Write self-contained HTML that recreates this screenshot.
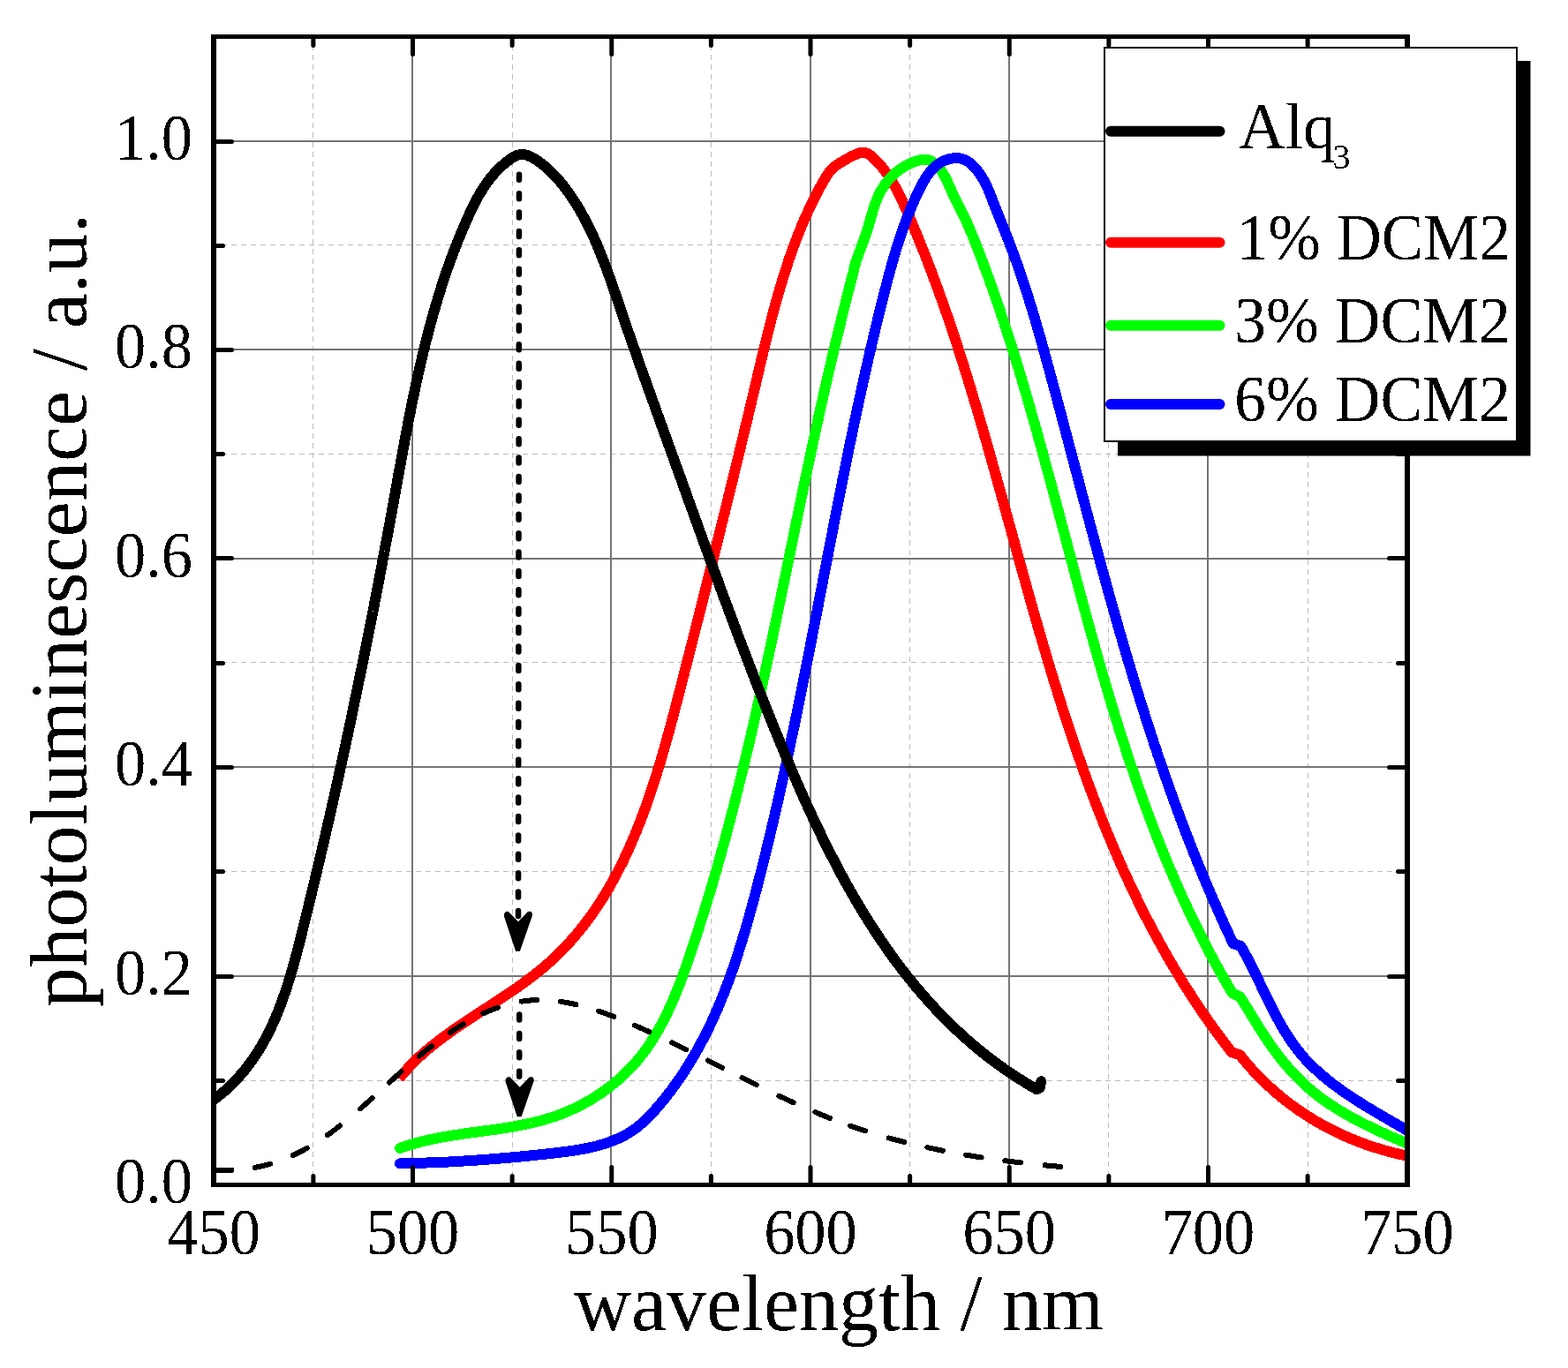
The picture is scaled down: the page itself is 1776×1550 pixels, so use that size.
<!DOCTYPE html>
<html><head><meta charset="utf-8"><title>Photoluminescence spectra</title><style>
html,body{margin:0;padding:0;background:#fff;overflow:hidden;}
svg{display:block;}
.gM{stroke:#747474;stroke-width:2;}
.gm{stroke:#bbbbbb;stroke-width:1;stroke-dasharray:6 5;}
text{font-family:"Liberation Serif","Times New Roman",serif;fill:#000;}
.tl text{font-size:74px;}
.at{font-size:90px;}
.aty{font-size:90.5px;}
.lt text{font-size:73px;}
.sub{font-size:40px;}
</style></head><body>
<svg width="1776" height="1550" viewBox="0 0 1776 1550">
<rect width="1776" height="1550" fill="#fff"/>
<g><line x1="354.5" y1="40" x2="354.5" y2="1340" class="gm"/><line x1="580.5" y1="40" x2="580.5" y2="1340" class="gm"/><line x1="805.5" y1="40" x2="805.5" y2="1340" class="gm"/><line x1="1030.5" y1="40" x2="1030.5" y2="1340" class="gm"/><line x1="1255.5" y1="40" x2="1255.5" y2="1340" class="gm"/><line x1="1481.5" y1="40" x2="1481.5" y2="1340" class="gm"/><line x1="240" y1="1224.5" x2="1591" y2="1224.5" class="gm"/><line x1="240" y1="987.5" x2="1591" y2="987.5" class="gm"/><line x1="240" y1="750.5" x2="1591" y2="750.5" class="gm"/><line x1="240" y1="514.5" x2="1591" y2="514.5" class="gm"/><line x1="240" y1="277.5" x2="1591" y2="277.5" class="gm"/><line x1="467" y1="1342.5" x2="467" y2="41.75" class="gM"/><line x1="692" y1="1342.5" x2="692" y2="41.75" class="gM"/><line x1="918" y1="1342.5" x2="918" y2="41.75" class="gM"/><line x1="1143" y1="1342.5" x2="1143" y2="41.75" class="gM"/><line x1="1368" y1="1342.5" x2="1368" y2="41.75" class="gM"/><line x1="242.25" y1="1106" x2="1593.75" y2="1106" class="gM"/><line x1="242.25" y1="869" x2="1593.75" y2="869" class="gM"/><line x1="242.25" y1="633" x2="1593.75" y2="633" class="gM"/><line x1="242.25" y1="396" x2="1593.75" y2="396" class="gM"/><line x1="242.25" y1="160" x2="1593.75" y2="160" class="gM"/></g>
<g clip-path="url(#clip)" fill="none" stroke-linejoin="round" shape-rendering="crispEdges">
<path d="M452.1,1222.0 L453.6,1220.1 L455.1,1218.3 L456.7,1216.4 L458.3,1214.6 L459.9,1212.8 L461.5,1211.0 L463.1,1209.2 L464.8,1207.5 L466.5,1205.7 L468.2,1204.0 L469.9,1202.3 L471.7,1200.6 L473.5,1198.9 L475.2,1197.2 L477.0,1195.6 L478.9,1194.0 L480.7,1192.3 L482.6,1190.7 L484.4,1189.1 L486.3,1187.6 L488.2,1186.0 L490.2,1184.4 L492.1,1182.9 L494.0,1181.4 L496.0,1179.8 L498.0,1178.3 L500.0,1176.8 L502.0,1175.3 L504.0,1173.8 L506.0,1172.4 L508.0,1170.9 L510.1,1169.4 L512.1,1168.0 L514.2,1166.5 L516.2,1165.1 L518.3,1163.7 L520.4,1162.2 L522.5,1160.8 L524.6,1159.4 L526.7,1158.0 L528.8,1156.6 L530.9,1155.2 L533.0,1153.8 L535.1,1152.4 L537.2,1151.0 L539.4,1149.6 L541.5,1148.2 L543.6,1146.8 L545.8,1145.4 L547.9,1144.0 L550.0,1142.7 L552.2,1141.3 L554.3,1139.9 L556.4,1138.5 L558.6,1137.1 L560.7,1135.7 L562.8,1134.3 L564.9,1132.9 L567.0,1131.5 L569.2,1130.1 L571.3,1128.7 L573.4,1127.3 L575.5,1125.9 L577.6,1124.5 L579.7,1123.1 L581.7,1121.7 L583.8,1120.2 L585.9,1118.8 L587.9,1117.3 L590.0,1115.9 L592.0,1114.4 L594.0,1113.0 L596.1,1111.5 L598.1,1110.0 L600.1,1108.5 L602.0,1107.0 L604.0,1105.5 L606.0,1104.0 L607.9,1102.4 L609.8,1100.9 L611.8,1099.4 L613.7,1097.8 L615.6,1096.2 L617.4,1094.6 L619.3,1093.0 L621.1,1091.4 L622.9,1089.8 L624.7,1088.1 L626.5,1086.5 L628.3,1084.8 L630.1,1083.1 L631.8,1081.4 L633.5,1079.7 L635.3,1078.0 L637.0,1076.3 L638.6,1074.6 L640.3,1072.8 L642.0,1071.1 L643.6,1069.3 L645.2,1067.5 L646.8,1065.7 L648.4,1063.9 L650.0,1062.1 L651.6,1060.3 L653.1,1058.4 L654.7,1056.6 L656.2,1054.7 L657.7,1052.8 L659.2,1051.0 L660.7,1049.1 L662.2,1047.2 L663.6,1045.3 L665.1,1043.3 L666.5,1041.4 L667.9,1039.5 L669.3,1037.5 L670.7,1035.6 L672.1,1033.6 L673.5,1031.6 L674.8,1029.6 L676.2,1027.6 L677.5,1025.6 L678.8,1023.6 L680.1,1021.6 L681.4,1019.6 L682.7,1017.5 L684.0,1015.5 L685.2,1013.4 L686.5,1011.3 L687.7,1009.3 L689.0,1007.2 L690.2,1005.1 L691.4,1003.0 L692.6,1000.9 L693.7,998.7 L694.9,996.6 L696.1,994.5 L697.2,992.3 L698.4,990.2 L699.5,988.0 L700.6,985.9 L701.7,983.7 L702.8,981.5 L703.9,979.3 L705.0,977.2 L706.1,975.0 L707.1,972.8 L708.2,970.5 L709.2,968.3 L710.2,966.1 L711.3,963.9 L712.3,961.6 L713.3,959.4 L714.3,957.1 L715.3,954.9 L716.2,952.6 L717.2,950.3 L718.2,948.1 L719.1,945.8 L720.1,943.5 L721.0,941.2 L721.9,938.9 L722.8,936.6 L723.7,934.3 L724.7,932.0 L725.5,929.7 L726.4,927.4 L727.3,925.0 L728.2,922.7 L729.1,920.4 L729.9,918.0 L730.8,915.7 L731.6,913.3 L732.5,911.0 L733.3,908.6 L734.1,906.3 L734.9,903.9 L735.7,901.5 L736.5,899.2 L737.3,896.8 L738.1,894.4 L738.9,892.0 L739.7,889.6 L740.5,887.2 L741.3,884.8 L742.0,882.4 L742.8,880.0 L743.5,877.6 L744.3,875.2 L745.0,872.8 L745.8,870.4 L746.5,868.0 L747.2,865.6 L748.0,863.2 L748.7,860.8 L749.4,858.3 L750.1,855.9 L750.8,853.5 L751.5,851.1 L752.2,848.6 L752.9,846.2 L753.6,843.8 L754.3,841.3 L755.0,838.9 L755.6,836.5 L756.3,834.0 L757.0,831.6 L757.7,829.1 L758.3,826.7 L759.0,824.2 L759.7,821.8 L760.3,819.4 L761.0,816.9 L761.6,814.5 L762.3,812.0 L762.9,809.6 L763.6,807.1 L764.2,804.7 L764.8,802.2 L765.5,799.8 L766.1,797.4 L766.8,794.9 L767.4,792.5 L768.0,790.0 L768.6,787.6 L769.3,785.1 L769.9,782.7 L770.5,780.3 L771.2,777.8 L771.8,775.4 L772.4,772.9 L773.0,770.5 L773.6,768.1 L774.3,765.6 L774.9,763.2 L775.5,760.8 L776.1,758.3 L776.8,755.9 L777.4,753.5 L778.0,751.1 L778.6,748.6 L779.2,746.2 L779.8,743.8 L780.5,741.4 L781.1,739.0 L781.7,736.5 L782.3,734.1 L782.9,731.7 L783.5,729.3 L784.1,726.9 L784.8,724.5 L785.4,722.1 L786.0,719.7 L786.6,717.2 L787.2,714.8 L787.8,712.4 L788.4,710.0 L789.0,707.6 L789.6,705.2 L790.2,702.8 L790.9,700.4 L791.5,698.0 L792.1,695.6 L792.7,693.2 L793.3,690.8 L793.9,688.4 L794.5,686.0 L795.1,683.6 L795.7,681.2 L796.3,678.8 L796.9,676.4 L797.5,674.0 L798.1,671.7 L798.7,669.3 L799.3,666.9 L799.9,664.5 L800.5,662.1 L801.1,659.7 L801.7,657.3 L802.3,654.9 L802.9,652.5 L803.5,650.1 L804.1,647.8 L804.7,645.4 L805.3,643.0 L805.9,640.6 L806.5,638.2 L807.1,635.8 L807.7,633.5 L808.3,631.1 L808.9,628.7 L809.5,626.3 L810.0,623.9 L810.6,621.5 L811.2,619.2 L811.8,616.8 L812.4,614.4 L813.0,612.0 L813.6,609.6 L814.2,607.3 L814.8,604.9 L815.4,602.5 L816.0,600.1 L816.5,597.7 L817.1,595.3 L817.7,593.0 L818.3,590.6 L818.9,588.2 L819.5,585.8 L820.1,583.5 L820.7,581.1 L821.2,578.7 L821.8,576.3 L822.4,573.9 L823.0,571.6 L823.6,569.2 L824.2,566.8 L824.8,564.4 L825.3,562.0 L825.9,559.6 L826.5,557.3 L827.1,554.9 L827.7,552.5 L828.3,550.1 L828.8,547.7 L829.4,545.4 L830.0,543.0 L830.6,540.6 L831.2,538.2 L831.7,535.8 L832.3,533.4 L832.9,531.1 L833.5,528.7 L834.1,526.3 L834.6,523.9 L835.2,521.5 L835.8,519.1 L836.4,516.7 L837.0,514.4 L837.5,512.0 L838.1,509.6 L838.7,507.2 L839.3,504.8 L839.8,502.4 L840.4,500.0 L841.0,497.6 L841.6,495.2 L842.2,492.8 L842.7,490.4 L843.3,488.0 L843.9,485.6 L844.5,483.2 L845.0,480.9 L845.6,478.5 L846.2,476.1 L846.8,473.7 L847.3,471.3 L847.9,468.9 L848.5,466.4 L849.1,464.0 L849.6,461.6 L850.2,459.2 L850.8,456.8 L851.3,454.4 L851.9,452.0 L852.5,449.6 L853.1,447.2 L853.6,444.8 L854.2,442.4 L854.8,440.0 L855.4,437.5 L855.9,435.1 L856.5,432.7 L857.1,430.3 L857.6,427.9 L858.2,425.4 L858.8,423.0 L859.4,420.6 L859.9,418.2 L860.5,415.8 L861.1,413.3 L861.6,410.9 L862.2,408.5 L862.8,406.0 L863.4,403.6 L864.0,401.2 L864.5,398.8 L865.1,396.3 L865.7,393.9 L866.3,391.5 L866.9,389.1 L867.5,386.6 L868.1,384.2 L868.7,381.8 L869.3,379.4 L869.9,376.9 L870.5,374.5 L871.1,372.1 L871.7,369.7 L872.3,367.2 L873.0,364.8 L873.6,362.4 L874.2,360.0 L874.8,357.6 L875.5,355.1 L876.1,352.7 L876.8,350.3 L877.4,347.9 L878.1,345.5 L878.7,343.1 L879.4,340.7 L880.1,338.3 L880.8,335.9 L881.4,333.5 L882.1,331.1 L882.8,328.7 L883.5,326.3 L884.2,323.9 L884.9,321.5 L885.7,319.1 L886.4,316.7 L887.1,314.3 L887.9,312.0 L888.6,309.6 L889.4,307.2 L890.1,304.9 L890.9,302.5 L891.7,300.1 L892.4,297.8 L893.2,295.4 L894.0,293.0 L894.8,290.7 L895.7,288.4 L896.5,286.0 L897.3,283.7 L898.2,281.3 L899.0,279.0 L899.9,276.7 L900.7,274.3 L901.6,272.0 L902.5,269.7 L903.4,267.4 L904.3,265.1 L905.2,262.8 L906.2,260.5 L907.1,258.2 L908.0,255.9 L909.0,253.6 L910.0,251.3 L910.9,249.1 L911.9,246.8 L912.9,244.5 L914.0,242.3 L915.0,240.0 L916.0,237.8 L917.1,235.5 L918.1,233.3 L919.2,231.1 L920.3,228.8 L921.4,226.6 L922.5,224.4 L923.6,222.2 L924.7,220.0 L925.9,217.8 L927.0,215.6 L928.2,213.4 L929.4,211.2 L930.6,209.1 L931.8,206.9 L933.0,204.7 L934.3,202.6 L935.5,200.5 L936.8,198.4 L938.2,196.3 L939.7,194.4 L941.3,192.6 L943.0,190.9 L944.8,189.3 L946.7,187.8 L948.7,186.4 L950.8,185.0 L952.9,183.7 L955.1,182.4 L957.3,181.1 L959.5,179.9 L961.7,178.6 L964.0,177.4 L966.3,176.3 L968.7,175.2 L971.0,174.2 L973.4,173.4 L975.8,172.8 L978.1,172.7 L980.3,173.1 L982.5,173.9 L984.5,175.2 L986.5,176.7 L988.4,178.3 L990.2,180.0 L992.0,181.8 L993.8,183.6 L995.5,185.4 L997.1,187.2 L998.8,189.1 L1000.3,191.0 L1001.8,193.0 L1003.3,195.0 L1004.8,197.0 L1006.2,199.0 L1007.5,201.1 L1008.9,203.1 L1010.2,205.2 L1011.4,207.4 L1012.7,209.5 L1013.9,211.7 L1015.1,213.8 L1016.2,216.0 L1017.4,218.2 L1018.5,220.5 L1019.6,222.7 L1020.7,224.9 L1021.7,227.2 L1022.8,229.5 L1023.8,231.7 L1024.8,234.0 L1025.8,236.3 L1026.9,238.6 L1027.9,240.9 L1028.8,243.1 L1029.8,245.4 L1030.8,247.7 L1031.8,250.0 L1032.8,252.3 L1033.7,254.6 L1034.7,256.9 L1035.7,259.2 L1036.6,261.5 L1037.6,263.8 L1038.5,266.1 L1039.5,268.4 L1040.4,270.7 L1041.3,273.0 L1042.3,275.3 L1043.2,277.6 L1044.1,279.9 L1045.0,282.2 L1045.9,284.5 L1046.9,286.8 L1047.8,289.1 L1048.7,291.4 L1049.6,293.8 L1050.5,296.1 L1051.4,298.4 L1052.2,300.7 L1053.1,303.0 L1054.0,305.3 L1054.9,307.6 L1055.7,309.9 L1056.6,312.3 L1057.5,314.6 L1058.3,316.9 L1059.2,319.2 L1060.1,321.5 L1060.9,323.9 L1061.8,326.2 L1062.6,328.5 L1063.4,330.8 L1064.3,333.1 L1065.1,335.5 L1065.9,337.8 L1066.8,340.1 L1067.6,342.5 L1068.4,344.8 L1069.2,347.1 L1070.0,349.4 L1070.9,351.8 L1071.7,354.1 L1072.5,356.4 L1073.3,358.8 L1074.1,361.1 L1074.9,363.4 L1075.7,365.8 L1076.4,368.1 L1077.2,370.4 L1078.0,372.8 L1078.8,375.1 L1079.6,377.5 L1080.4,379.8 L1081.1,382.1 L1081.9,384.5 L1082.7,386.8 L1083.4,389.2 L1084.2,391.5 L1085.0,393.9 L1085.7,396.2 L1086.5,398.5 L1087.2,400.9 L1088.0,403.2 L1088.7,405.6 L1089.5,407.9 L1090.2,410.3 L1091.0,412.6 L1091.7,415.0 L1092.4,417.3 L1093.2,419.7 L1093.9,422.1 L1094.6,424.4 L1095.4,426.8 L1096.1,429.1 L1096.8,431.5 L1097.5,433.8 L1098.3,436.2 L1099.0,438.5 L1099.7,440.9 L1100.4,443.3 L1101.1,445.6 L1101.8,448.0 L1102.5,450.4 L1103.2,452.7 L1104.0,455.1 L1104.7,457.5 L1105.4,459.8 L1106.1,462.2 L1106.8,464.6 L1107.5,466.9 L1108.2,469.3 L1108.8,471.7 L1109.5,474.0 L1110.2,476.4 L1110.9,478.8 L1111.6,481.1 L1112.3,483.5 L1113.0,485.9 L1113.7,488.3 L1114.4,490.6 L1115.0,493.0 L1115.7,495.4 L1116.4,497.8 L1117.1,500.2 L1117.8,502.5 L1118.4,504.9 L1119.1,507.3 L1119.8,509.7 L1120.5,512.1 L1121.1,514.4 L1121.8,516.8 L1122.5,519.2 L1123.2,521.6 L1123.8,524.0 L1124.5,526.4 L1125.2,528.8 L1125.8,531.1 L1126.5,533.5 L1127.2,535.9 L1127.8,538.3 L1128.5,540.7 L1129.2,543.1 L1129.8,545.5 L1130.5,547.9 L1131.2,550.3 L1131.8,552.7 L1132.5,555.0 L1133.2,557.4 L1133.8,559.8 L1134.5,562.2 L1135.1,564.6 L1135.8,567.0 L1136.5,569.4 L1137.1,571.8 L1137.8,574.2 L1138.4,576.6 L1139.1,579.0 L1139.8,581.4 L1140.4,583.8 L1141.1,586.2 L1141.7,588.6 L1142.4,591.0 L1143.1,593.4 L1143.7,595.8 L1144.4,598.2 L1145.0,600.6 L1145.7,603.0 L1146.4,605.4 L1147.0,607.8 L1147.7,610.2 L1148.3,612.6 L1149.0,615.0 L1149.7,617.4 L1150.3,619.8 L1151.0,622.2 L1151.6,624.6 L1152.3,627.0 L1153.0,629.4 L1153.6,631.8 L1154.3,634.2 L1154.9,636.6 L1155.6,639.0 L1156.3,641.4 L1156.9,643.8 L1157.6,646.2 L1158.3,648.6 L1158.9,651.0 L1159.6,653.4 L1160.3,655.8 L1160.9,658.2 L1161.6,660.6 L1162.3,663.0 L1162.9,665.4 L1163.6,667.8 L1164.3,670.2 L1165.0,672.6 L1165.6,675.0 L1166.3,677.4 L1167.0,679.8 L1167.6,682.2 L1168.3,684.6 L1169.0,687.0 L1169.7,689.4 L1170.4,691.8 L1171.0,694.2 L1171.7,696.6 L1172.4,699.0 L1173.1,701.4 L1173.8,703.8 L1174.5,706.1 L1175.1,708.5 L1175.8,710.9 L1176.5,713.3 L1177.2,715.7 L1177.9,718.1 L1178.6,720.5 L1179.3,722.9 L1180.0,725.3 L1180.7,727.7 L1181.4,730.1 L1182.1,732.5 L1182.8,734.9 L1183.5,737.2 L1184.2,739.6 L1184.9,742.0 L1185.6,744.4 L1186.3,746.8 L1187.0,749.2 L1187.7,751.6 L1188.5,753.9 L1189.2,756.3 L1189.9,758.7 L1190.6,761.1 L1191.3,763.5 L1192.1,765.8 L1192.8,768.2 L1193.5,770.6 L1194.2,773.0 L1195.0,775.4 L1195.7,777.7 L1196.4,780.1 L1197.2,782.5 L1197.9,784.9 L1198.7,787.2 L1199.4,789.6 L1200.1,792.0 L1200.9,794.3 L1201.6,796.7 L1202.4,799.1 L1203.1,801.5 L1203.9,803.8 L1204.7,806.2 L1205.4,808.5 L1206.2,810.9 L1206.9,813.3 L1207.7,815.6 L1208.5,818.0 L1209.2,820.4 L1210.0,822.7 L1210.8,825.1 L1211.6,827.4 L1212.4,829.8 L1213.1,832.1 L1213.9,834.5 L1214.7,836.8 L1215.5,839.2 L1216.3,841.5 L1217.1,843.9 L1217.9,846.2 L1218.7,848.6 L1219.5,850.9 L1220.3,853.3 L1221.1,855.6 L1221.9,857.9 L1222.8,860.3 L1223.6,862.6 L1224.4,865.0 L1225.2,867.3 L1226.0,869.6 L1226.9,872.0 L1227.7,874.3 L1228.6,876.6 L1229.4,878.9 L1230.2,881.3 L1231.1,883.6 L1231.9,885.9 L1232.8,888.2 L1233.6,890.6 L1234.5,892.9 L1235.4,895.2 L1236.2,897.5 L1237.1,899.8 L1238.0,902.1 L1238.8,904.4 L1239.7,906.8 L1240.6,909.1 L1241.5,911.4 L1242.4,913.7 L1243.3,916.0 L1244.2,918.3 L1245.1,920.6 L1246.0,922.9 L1246.9,925.2 L1247.8,927.5 L1248.7,929.8 L1249.6,932.1 L1250.5,934.3 L1251.4,936.6 L1252.4,938.9 L1253.3,941.2 L1254.2,943.5 L1255.2,945.8 L1256.1,948.0 L1257.1,950.3 L1258.0,952.6 L1259.0,954.9 L1259.9,957.1 L1260.9,959.4 L1261.9,961.7 L1262.8,963.9 L1263.8,966.2 L1264.8,968.5 L1265.8,970.7 L1266.7,973.0 L1267.7,975.2 L1268.7,977.5 L1269.7,979.7 L1270.7,982.0 L1271.7,984.2 L1272.7,986.5 L1273.8,988.7 L1274.8,991.0 L1275.8,993.2 L1276.8,995.4 L1277.9,997.7 L1278.9,999.9 L1279.9,1002.1 L1281.0,1004.4 L1282.0,1006.6 L1283.1,1008.8 L1284.2,1011.0 L1285.2,1013.2 L1286.3,1015.5 L1287.4,1017.7 L1288.4,1019.9 L1289.5,1022.1 L1290.6,1024.3 L1291.7,1026.5 L1292.8,1028.7 L1293.9,1030.9 L1295.0,1033.1 L1296.1,1035.3 L1297.2,1037.5 L1298.3,1039.7 L1299.5,1041.9 L1300.6,1044.1 L1301.7,1046.2 L1302.9,1048.4 L1304.0,1050.6 L1305.2,1052.8 L1306.3,1055.0 L1307.5,1057.1 L1308.7,1059.3 L1309.8,1061.5 L1311.0,1063.6 L1312.2,1065.8 L1313.4,1067.9 L1314.6,1070.1 L1315.8,1072.2 L1317.0,1074.4 L1318.2,1076.5 L1319.4,1078.7 L1320.6,1080.8 L1321.8,1083.0 L1323.0,1085.1 L1324.3,1087.2 L1325.5,1089.4 L1326.8,1091.5 L1328.0,1093.6 L1329.3,1095.7 L1330.5,1097.9 L1331.8,1100.0 L1333.1,1102.1 L1334.3,1104.2 L1335.6,1106.3 L1336.9,1108.4 L1338.2,1110.5 L1339.5,1112.6 L1340.8,1114.7 L1342.1,1116.8 L1343.4,1118.9 L1344.8,1121.0 L1346.1,1123.1 L1347.4,1125.2 L1348.8,1127.2 L1350.1,1129.3 L1351.5,1131.4 L1352.8,1133.5 L1354.2,1135.5 L1355.6,1137.6 L1356.9,1139.7 L1358.3,1141.7 L1359.7,1143.8 L1361.1,1145.8 L1362.5,1147.9 L1363.9,1149.9 L1365.3,1152.0 L1366.7,1154.0 L1368.2,1156.0 L1369.6,1158.1 L1371.0,1160.1 L1372.5,1162.1 L1373.9,1164.1 L1375.4,1166.2 L1376.9,1168.2 L1378.3,1170.2 L1379.8,1172.2 L1381.3,1174.2 L1382.8,1176.2 L1384.3,1178.2 L1385.8,1180.2 L1387.3,1182.2 L1388.8,1184.2 L1390.3,1186.2 L1391.9,1188.2 L1393.4,1190.1 L1394.9,1192.1 L1404.2,1195.2 L1405.7,1197.0 L1407.1,1198.8 L1408.6,1200.6 L1410.1,1202.4 L1411.6,1204.2 L1413.1,1206.0 L1414.6,1207.7 L1416.2,1209.4 L1417.7,1211.2 L1419.3,1212.9 L1420.8,1214.6 L1422.4,1216.2 L1424.0,1217.9 L1425.6,1219.6 L1427.2,1221.2 L1428.8,1222.8 L1430.5,1224.4 L1432.1,1226.0 L1433.7,1227.6 L1435.4,1229.2 L1437.1,1230.7 L1438.8,1232.3 L1440.5,1233.8 L1442.2,1235.3 L1443.9,1236.8 L1445.6,1238.3 L1447.4,1239.8 L1449.1,1241.3 L1450.9,1242.7 L1452.6,1244.2 L1454.4,1245.6 L1456.2,1247.0 L1458.0,1248.4 L1459.8,1249.8 L1461.6,1251.1 L1463.4,1252.5 L1465.3,1253.8 L1467.1,1255.2 L1469.0,1256.5 L1470.8,1257.8 L1472.7,1259.1 L1474.6,1260.3 L1476.5,1261.6 L1478.4,1262.8 L1480.3,1264.1 L1482.2,1265.3 L1484.2,1266.5 L1486.1,1267.7 L1488.0,1268.9 L1490.0,1270.0 L1491.9,1271.2 L1493.9,1272.3 L1495.9,1273.4 L1497.9,1274.6 L1499.9,1275.6 L1501.9,1276.7 L1503.9,1277.8 L1505.9,1278.8 L1507.9,1279.9 L1510.0,1280.9 L1512.0,1281.9 L1514.1,1282.9 L1516.1,1283.9 L1518.2,1284.9 L1520.3,1285.8 L1522.3,1286.8 L1524.4,1287.7 L1526.5,1288.6 L1528.6,1289.5 L1530.7,1290.4 L1532.9,1291.3 L1535.0,1292.1 L1537.1,1293.0 L1539.3,1293.8 L1541.4,1294.6 L1543.6,1295.4 L1545.7,1296.2 L1547.9,1297.0 L1550.1,1297.7 L1552.2,1298.5 L1554.4,1299.2 L1556.6,1299.9 L1558.8,1300.6 L1561.0,1301.3 L1563.2,1302.0 L1565.4,1302.6 L1567.7,1303.3 L1569.9,1303.9 L1572.1,1304.5 L1574.4,1305.1 L1576.6,1305.7 L1578.9,1306.3 L1581.1,1306.9 L1583.4,1307.4 L1585.7,1307.9 L1587.9,1308.4 L1590.2,1309.0 L1592.5,1309.4 L1594.8,1309.9 L1597.1,1310.4" stroke="#ff0000" stroke-width="12" stroke-linecap="butt"/>
<path d="M453.0,1301.0 L455.3,1300.2 L457.7,1299.4 L460.0,1298.6 L462.4,1297.8 L464.7,1297.1 L467.1,1296.4 L469.5,1295.7 L471.8,1295.0 L474.2,1294.4 L476.6,1293.7 L479.0,1293.1 L481.4,1292.5 L483.8,1292.0 L486.2,1291.4 L488.7,1290.9 L491.1,1290.4 L493.5,1289.9 L495.9,1289.4 L498.4,1289.0 L500.8,1288.5 L503.3,1288.1 L505.7,1287.6 L508.2,1287.2 L510.6,1286.8 L513.1,1286.4 L515.5,1286.0 L518.0,1285.7 L520.5,1285.3 L522.9,1284.9 L525.4,1284.6 L527.9,1284.2 L530.3,1283.9 L532.8,1283.5 L535.3,1283.2 L537.7,1282.9 L540.2,1282.5 L542.7,1282.2 L545.2,1281.9 L547.6,1281.5 L550.1,1281.2 L552.6,1280.9 L555.0,1280.5 L557.5,1280.2 L560.0,1279.8 L562.5,1279.5 L564.9,1279.1 L567.4,1278.7 L569.8,1278.4 L572.3,1278.0 L574.8,1277.6 L577.2,1277.2 L579.7,1276.8 L582.1,1276.4 L584.5,1275.9 L587.0,1275.5 L589.4,1275.0 L591.8,1274.5 L594.3,1274.0 L596.7,1273.5 L599.1,1273.0 L601.5,1272.5 L603.9,1271.9 L606.3,1271.3 L608.7,1270.7 L611.1,1270.1 L613.5,1269.5 L615.9,1268.8 L618.2,1268.1 L620.6,1267.4 L622.9,1266.7 L625.3,1265.9 L627.6,1265.2 L630.0,1264.4 L632.3,1263.5 L634.6,1262.7 L636.9,1261.8 L639.2,1260.8 L641.5,1259.9 L643.8,1258.9 L646.0,1257.9 L648.3,1256.9 L650.5,1255.9 L652.8,1254.8 L655.0,1253.7 L657.2,1252.6 L659.4,1251.4 L661.6,1250.2 L663.8,1249.0 L665.9,1247.8 L668.1,1246.6 L670.2,1245.3 L672.3,1244.0 L674.4,1242.7 L676.5,1241.3 L678.6,1240.0 L680.6,1238.6 L682.7,1237.2 L684.7,1235.7 L686.7,1234.3 L688.7,1232.8 L690.7,1231.3 L692.6,1229.8 L694.5,1228.2 L696.5,1226.7 L698.3,1225.1 L700.2,1223.5 L702.1,1221.8 L703.9,1220.2 L705.7,1218.5 L707.5,1216.8 L709.3,1215.1 L711.0,1213.4 L712.7,1211.6 L714.4,1209.9 L716.1,1208.1 L717.8,1206.3 L719.4,1204.4 L721.0,1202.6 L722.6,1200.7 L724.1,1198.8 L725.7,1196.9 L727.2,1195.0 L728.7,1193.1 L730.1,1191.1 L731.6,1189.1 L733.0,1187.2 L734.4,1185.1 L735.7,1183.1 L737.1,1181.1 L738.4,1179.0 L739.7,1177.0 L741.0,1174.9 L742.3,1172.8 L743.6,1170.7 L744.8,1168.6 L746.0,1166.4 L747.2,1164.3 L748.4,1162.1 L749.6,1160.0 L750.7,1157.8 L751.9,1155.6 L753.0,1153.4 L754.1,1151.2 L755.2,1149.0 L756.2,1146.7 L757.3,1144.5 L758.3,1142.2 L759.4,1140.0 L760.4,1137.7 L761.4,1135.4 L762.4,1133.1 L763.4,1130.8 L764.3,1128.5 L765.3,1126.2 L766.2,1123.9 L767.1,1121.6 L768.1,1119.3 L769.0,1116.9 L769.9,1114.6 L770.8,1112.3 L771.7,1109.9 L772.5,1107.6 L773.4,1105.2 L774.3,1102.8 L775.1,1100.5 L776.0,1098.1 L776.8,1095.8 L777.6,1093.4 L778.4,1091.0 L779.3,1088.6 L780.1,1086.3 L780.9,1083.9 L781.7,1081.5 L782.5,1079.2 L783.3,1076.8 L784.1,1074.4 L784.9,1072.0 L785.7,1069.7 L786.4,1067.3 L787.2,1064.9 L788.0,1062.5 L788.8,1060.2 L789.5,1057.8 L790.3,1055.4 L791.1,1053.1 L791.8,1050.7 L792.6,1048.3 L793.3,1045.9 L794.1,1043.6 L794.8,1041.2 L795.6,1038.8 L796.3,1036.5 L797.1,1034.1 L797.8,1031.7 L798.5,1029.4 L799.3,1027.0 L800.0,1024.6 L800.7,1022.2 L801.4,1019.9 L802.1,1017.5 L802.9,1015.1 L803.6,1012.8 L804.3,1010.4 L805.0,1008.0 L805.7,1005.7 L806.4,1003.3 L807.1,1000.9 L807.8,998.6 L808.5,996.2 L809.1,993.8 L809.8,991.4 L810.5,989.1 L811.2,986.7 L811.9,984.3 L812.6,982.0 L813.2,979.6 L813.9,977.2 L814.6,974.8 L815.2,972.5 L815.9,970.1 L816.6,967.7 L817.2,965.3 L817.9,963.0 L818.5,960.6 L819.2,958.2 L819.8,955.8 L820.5,953.5 L821.1,951.1 L821.8,948.7 L822.4,946.3 L823.0,944.0 L823.7,941.6 L824.3,939.2 L824.9,936.8 L825.6,934.4 L826.2,932.1 L826.8,929.7 L827.4,927.3 L828.1,924.9 L828.7,922.5 L829.3,920.1 L829.9,917.7 L830.5,915.4 L831.1,913.0 L831.7,910.6 L832.4,908.2 L833.0,905.8 L833.6,903.4 L834.2,901.0 L834.8,898.6 L835.4,896.2 L836.0,893.8 L836.6,891.4 L837.2,889.0 L837.7,886.6 L838.3,884.2 L838.9,881.8 L839.5,879.4 L840.1,877.0 L840.7,874.6 L841.3,872.2 L841.8,869.8 L842.4,867.4 L843.0,865.0 L843.6,862.6 L844.2,860.2 L844.7,857.8 L845.3,855.4 L845.9,853.0 L846.4,850.6 L847.0,848.2 L847.6,845.8 L848.1,843.4 L848.7,841.0 L849.3,838.5 L849.8,836.1 L850.4,833.7 L850.9,831.3 L851.5,828.9 L852.1,826.5 L852.6,824.1 L853.2,821.7 L853.7,819.2 L854.3,816.8 L854.8,814.4 L855.4,812.0 L855.9,809.6 L856.5,807.2 L857.0,804.7 L857.5,802.3 L858.1,799.9 L858.6,797.5 L859.2,795.1 L859.7,792.6 L860.2,790.2 L860.8,787.8 L861.3,785.4 L861.8,783.0 L862.4,780.5 L862.9,778.1 L863.4,775.7 L864.0,773.3 L864.5,770.8 L865.0,768.4 L865.6,766.0 L866.1,763.6 L866.6,761.1 L867.1,758.7 L867.7,756.3 L868.2,753.9 L868.7,751.4 L869.2,749.0 L869.7,746.6 L870.3,744.1 L870.8,741.7 L871.3,739.3 L871.8,736.9 L872.3,734.4 L872.9,732.0 L873.4,729.6 L873.9,727.1 L874.4,724.7 L874.9,722.3 L875.4,719.9 L875.9,717.4 L876.4,715.0 L877.0,712.6 L877.5,710.1 L878.0,707.7 L878.5,705.3 L879.0,702.8 L879.5,700.4 L880.0,698.0 L880.5,695.6 L881.0,693.1 L881.5,690.7 L882.0,688.3 L882.5,685.8 L883.1,683.4 L883.6,681.0 L884.1,678.5 L884.6,676.1 L885.1,673.7 L885.6,671.2 L886.1,668.8 L886.6,666.4 L887.1,663.9 L887.6,661.5 L888.1,659.1 L888.6,656.7 L889.1,654.2 L889.6,651.8 L890.1,649.4 L890.6,646.9 L891.1,644.5 L891.6,642.1 L892.1,639.6 L892.6,637.2 L893.1,634.8 L893.6,632.3 L894.1,629.9 L894.6,627.5 L895.1,625.1 L895.6,622.6 L896.1,620.2 L896.6,617.8 L897.1,615.3 L897.6,612.9 L898.1,610.5 L898.6,608.0 L899.1,605.6 L899.6,603.2 L900.1,600.8 L900.6,598.3 L901.1,595.9 L901.6,593.5 L902.1,591.1 L902.6,588.6 L903.1,586.2 L903.6,583.8 L904.1,581.3 L904.6,578.9 L905.1,576.5 L905.6,574.1 L906.1,571.6 L906.6,569.2 L907.1,566.8 L907.6,564.4 L908.1,561.9 L908.6,559.5 L909.1,557.1 L909.6,554.7 L910.1,552.3 L910.7,549.8 L911.2,547.4 L911.7,545.0 L912.2,542.6 L912.7,540.2 L913.2,537.7 L913.7,535.3 L914.2,532.9 L914.7,530.5 L915.2,528.1 L915.7,525.6 L916.3,523.2 L916.8,520.8 L917.3,518.4 L917.8,516.0 L918.3,513.6 L918.8,511.2 L919.3,508.7 L919.9,506.3 L920.4,503.9 L920.9,501.5 L921.4,499.1 L921.9,496.7 L922.5,494.3 L923.0,491.9 L923.5,489.5 L924.0,487.0 L924.5,484.6 L925.1,482.2 L925.6,479.8 L926.1,477.4 L926.7,475.0 L927.2,472.6 L927.7,470.2 L928.2,467.8 L928.8,465.4 L929.3,462.9 L929.8,460.5 L930.4,458.1 L930.9,455.7 L931.5,453.3 L932.0,450.9 L932.5,448.5 L933.1,446.1 L933.6,443.7 L934.2,441.3 L934.7,438.8 L935.3,436.4 L935.8,434.0 L936.4,431.6 L936.9,429.2 L937.5,426.8 L938.0,424.4 L938.6,421.9 L939.1,419.5 L939.7,417.1 L940.3,414.7 L940.8,412.3 L941.4,409.9 L942.0,407.4 L942.5,405.0 L943.1,402.6 L943.7,400.2 L944.2,397.8 L944.8,395.3 L945.4,392.9 L946.0,390.5 L946.5,388.1 L947.1,385.6 L947.7,383.2 L948.3,380.8 L948.9,378.4 L949.5,375.9 L950.1,373.5 L950.7,371.1 L951.3,368.6 L951.9,366.2 L952.5,363.7 L953.1,361.3 L953.7,358.9 L954.3,356.4 L954.9,354.0 L955.5,351.6 L956.1,349.1 L956.7,346.7 L957.3,344.3 L957.9,341.9 L958.5,339.5 L959.1,337.1 L959.7,334.8 L960.3,332.4 L960.9,330.1 L961.5,327.8 L962.1,325.6 L962.7,323.3 L963.2,321.2 L963.8,319.0 L964.3,317.0 L964.8,314.9 L965.3,313.0 L965.8,311.2 L966.2,309.5 L966.6,307.9 L966.9,306.4 L967.3,305.0 L967.5,303.7 L967.8,302.6 L968.1,301.4 L968.4,300.1 L968.8,298.8 L969.2,297.3 L969.7,295.8 L970.3,294.2 L970.9,292.4 L971.5,290.7 L972.2,288.8 L972.9,286.9 L973.7,284.9 L974.4,282.8 L975.2,280.7 L976.0,278.6 L976.8,276.4 L977.6,274.2 L978.5,271.9 L979.3,269.6 L980.1,267.2 L980.9,264.9 L981.7,262.5 L982.5,260.1 L983.2,257.7 L983.9,255.3 L984.6,252.9 L985.3,250.5 L986.0,248.1 L986.7,245.7 L987.4,243.4 L988.1,241.0 L988.8,238.6 L989.5,236.3 L990.3,233.9 L991.1,231.6 L991.9,229.3 L992.8,227.0 L993.7,224.7 L994.7,222.5 L995.7,220.3 L996.8,218.2 L997.9,216.0 L999.2,213.9 L1000.5,211.9 L1001.8,209.8 L1003.2,207.9 L1004.7,205.9 L1006.3,204.0 L1007.9,202.2 L1009.6,200.4 L1011.3,198.7 L1013.1,197.0 L1015.0,195.4 L1016.9,193.8 L1018.9,192.3 L1021.0,190.9 L1023.1,189.5 L1025.3,188.2 L1027.5,186.9 L1029.8,185.8 L1032.1,184.7 L1034.5,183.7 L1036.9,182.8 L1039.3,182.1 L1041.7,181.5 L1044.1,181.1 L1046.4,180.9 L1048.7,180.9 L1050.9,181.2 L1053.0,181.7 L1055.0,182.6 L1057.0,183.7 L1058.8,185.0 L1060.6,186.5 L1062.2,188.2 L1063.8,190.2 L1065.4,192.2 L1066.8,194.4 L1068.2,196.7 L1069.6,199.1 L1070.9,201.6 L1072.2,204.2 L1073.4,206.7 L1074.6,209.3 L1075.7,211.9 L1076.9,214.4 L1078.0,216.9 L1079.1,219.4 L1080.2,221.7 L1081.3,224.0 L1082.4,226.1 L1083.5,228.3 L1084.5,230.4 L1085.6,232.5 L1086.6,234.5 L1087.7,236.6 L1088.7,238.6 L1089.7,240.7 L1090.7,242.7 L1091.8,244.9 L1092.8,247.0 L1093.8,249.2 L1094.8,251.3 L1095.7,253.6 L1096.7,255.8 L1097.7,258.0 L1098.7,260.3 L1099.6,262.6 L1100.6,264.9 L1101.5,267.2 L1102.5,269.5 L1103.4,271.8 L1104.3,274.2 L1105.3,276.5 L1106.2,278.8 L1107.1,281.2 L1108.0,283.6 L1108.9,285.9 L1109.8,288.3 L1110.7,290.6 L1111.6,293.0 L1112.5,295.3 L1113.4,297.7 L1114.3,300.0 L1115.1,302.4 L1116.0,304.7 L1116.9,307.1 L1117.7,309.4 L1118.6,311.8 L1119.4,314.1 L1120.3,316.5 L1121.1,318.8 L1122.0,321.2 L1122.8,323.5 L1123.7,325.9 L1124.5,328.2 L1125.3,330.6 L1126.1,332.9 L1126.9,335.3 L1127.8,337.6 L1128.6,340.0 L1129.4,342.3 L1130.2,344.6 L1131.0,347.0 L1131.8,349.3 L1132.6,351.7 L1133.4,354.0 L1134.1,356.4 L1134.9,358.7 L1135.7,361.1 L1136.5,363.4 L1137.3,365.7 L1138.0,368.1 L1138.8,370.4 L1139.6,372.8 L1140.3,375.1 L1141.1,377.5 L1141.8,379.8 L1142.6,382.2 L1143.3,384.5 L1144.1,386.9 L1144.8,389.2 L1145.6,391.5 L1146.3,393.9 L1147.0,396.2 L1147.8,398.6 L1148.5,400.9 L1149.2,403.3 L1150.0,405.6 L1150.7,408.0 L1151.4,410.3 L1152.1,412.7 L1152.8,415.0 L1153.6,417.4 L1154.3,419.8 L1155.0,422.1 L1155.7,424.5 L1156.4,426.8 L1157.1,429.2 L1157.8,431.5 L1158.5,433.9 L1159.2,436.3 L1159.9,438.6 L1160.6,441.0 L1161.3,443.4 L1162.0,445.7 L1162.7,448.1 L1163.4,450.5 L1164.1,452.8 L1164.7,455.2 L1165.4,457.6 L1166.1,459.9 L1166.8,462.3 L1167.5,464.7 L1168.1,467.0 L1168.8,469.4 L1169.5,471.8 L1170.2,474.2 L1170.8,476.5 L1171.5,478.9 L1172.2,481.3 L1172.8,483.7 L1173.5,486.0 L1174.2,488.4 L1174.8,490.8 L1175.5,493.2 L1176.2,495.6 L1176.8,497.9 L1177.5,500.3 L1178.1,502.7 L1178.8,505.1 L1179.5,507.5 L1180.1,509.9 L1180.8,512.3 L1181.4,514.6 L1182.1,517.0 L1182.7,519.4 L1183.4,521.8 L1184.0,524.2 L1184.7,526.6 L1185.3,529.0 L1186.0,531.4 L1186.6,533.8 L1187.3,536.1 L1187.9,538.5 L1188.5,540.9 L1189.2,543.3 L1189.8,545.7 L1190.5,548.1 L1191.1,550.5 L1191.8,552.9 L1192.4,555.3 L1193.0,557.7 L1193.7,560.1 L1194.3,562.5 L1195.0,564.9 L1195.6,567.3 L1196.2,569.7 L1196.9,572.1 L1197.5,574.5 L1198.1,576.9 L1198.8,579.2 L1199.4,581.6 L1200.0,584.0 L1200.7,586.4 L1201.3,588.8 L1202.0,591.2 L1202.6,593.6 L1203.2,596.0 L1203.9,598.4 L1204.5,600.8 L1205.1,603.2 L1205.8,605.6 L1206.4,608.0 L1207.0,610.4 L1207.7,612.8 L1208.3,615.2 L1208.9,617.6 L1209.6,620.0 L1210.2,622.4 L1210.8,624.8 L1211.5,627.2 L1212.1,629.6 L1212.8,632.0 L1213.4,634.4 L1214.0,636.8 L1214.7,639.2 L1215.3,641.6 L1215.9,644.0 L1216.6,646.4 L1217.2,648.8 L1217.9,651.3 L1218.5,653.7 L1219.1,656.1 L1219.8,658.5 L1220.4,660.9 L1221.1,663.3 L1221.7,665.7 L1222.3,668.1 L1223.0,670.5 L1223.6,672.9 L1224.3,675.3 L1224.9,677.6 L1225.6,680.0 L1226.2,682.4 L1226.9,684.8 L1227.5,687.2 L1228.2,689.6 L1228.8,692.0 L1229.5,694.4 L1230.1,696.8 L1230.8,699.2 L1231.4,701.6 L1232.1,704.0 L1232.7,706.4 L1233.4,708.8 L1234.1,711.2 L1234.7,713.6 L1235.4,716.0 L1236.0,718.4 L1236.7,720.8 L1237.4,723.2 L1238.0,725.6 L1238.7,728.0 L1239.4,730.4 L1240.0,732.7 L1240.7,735.1 L1241.4,737.5 L1242.1,739.9 L1242.7,742.3 L1243.4,744.7 L1244.1,747.1 L1244.8,749.5 L1245.5,751.9 L1246.1,754.2 L1246.8,756.6 L1247.5,759.0 L1248.2,761.4 L1248.9,763.8 L1249.6,766.2 L1250.3,768.6 L1251.0,770.9 L1251.7,773.3 L1252.4,775.7 L1253.1,778.1 L1253.8,780.5 L1254.5,782.8 L1255.2,785.2 L1255.9,787.6 L1256.6,790.0 L1257.3,792.3 L1258.0,794.7 L1258.7,797.1 L1259.5,799.5 L1260.2,801.8 L1260.9,804.2 L1261.6,806.6 L1262.3,809.0 L1263.1,811.3 L1263.8,813.7 L1264.5,816.1 L1265.3,818.4 L1266.0,820.8 L1266.7,823.2 L1267.5,825.5 L1268.2,827.9 L1269.0,830.3 L1269.7,832.6 L1270.5,835.0 L1271.2,837.3 L1272.0,839.7 L1272.8,842.1 L1273.5,844.4 L1274.3,846.8 L1275.0,849.1 L1275.8,851.5 L1276.6,853.8 L1277.4,856.2 L1278.1,858.5 L1278.9,860.9 L1279.7,863.2 L1280.5,865.6 L1281.3,867.9 L1282.1,870.3 L1282.9,872.6 L1283.7,875.0 L1284.5,877.3 L1285.3,879.6 L1286.1,882.0 L1286.9,884.3 L1287.7,886.7 L1288.5,889.0 L1289.3,891.3 L1290.1,893.7 L1291.0,896.0 L1291.8,898.3 L1292.6,900.6 L1293.4,903.0 L1294.3,905.3 L1295.1,907.6 L1296.0,910.0 L1296.8,912.3 L1297.7,914.6 L1298.5,916.9 L1299.4,919.2 L1300.2,921.6 L1301.1,923.9 L1302.0,926.2 L1302.8,928.5 L1303.7,930.8 L1304.6,933.1 L1305.5,935.4 L1306.3,937.7 L1307.2,940.0 L1308.1,942.3 L1309.0,944.6 L1309.9,946.9 L1310.8,949.2 L1311.7,951.5 L1312.6,953.8 L1313.5,956.1 L1314.4,958.4 L1315.4,960.7 L1316.3,963.0 L1317.2,965.3 L1318.2,967.6 L1319.1,969.9 L1320.0,972.2 L1321.0,974.4 L1321.9,976.7 L1322.9,979.0 L1323.8,981.3 L1324.8,983.6 L1325.8,985.8 L1326.7,988.1 L1327.7,990.4 L1328.7,992.6 L1329.6,994.9 L1330.6,997.2 L1331.6,999.4 L1332.6,1001.7 L1333.6,1004.0 L1334.6,1006.2 L1335.6,1008.5 L1336.6,1010.7 L1337.6,1013.0 L1338.7,1015.2 L1339.7,1017.5 L1340.7,1019.7 L1341.7,1022.0 L1342.8,1024.2 L1343.8,1026.5 L1344.9,1028.7 L1345.9,1030.9 L1347.0,1033.2 L1348.0,1035.4 L1349.1,1037.6 L1350.2,1039.9 L1351.2,1042.1 L1352.3,1044.3 L1353.4,1046.5 L1354.5,1048.8 L1355.6,1051.0 L1356.7,1053.2 L1357.8,1055.4 L1358.9,1057.6 L1360.0,1059.9 L1361.1,1062.1 L1362.2,1064.3 L1363.4,1066.5 L1364.5,1068.7 L1365.6,1070.9 L1366.8,1073.1 L1367.9,1075.3 L1369.1,1077.5 L1370.2,1079.7 L1371.4,1081.8 L1372.6,1084.0 L1373.7,1086.2 L1374.9,1088.4 L1376.1,1090.6 L1377.3,1092.8 L1378.5,1094.9 L1379.7,1097.1 L1380.9,1099.3 L1382.1,1101.5 L1383.3,1103.6 L1384.6,1105.8 L1385.8,1108.0 L1387.0,1110.1 L1388.2,1112.3 L1389.5,1114.4 L1390.7,1116.6 L1392.0,1118.7 L1393.3,1120.9 L1394.5,1123.0 L1395.8,1125.2 L1404.4,1129.3 L1405.6,1131.2 L1406.9,1133.1 L1408.1,1135.0 L1409.3,1137.0 L1410.5,1138.9 L1411.7,1140.9 L1413.0,1142.8 L1414.2,1144.8 L1415.4,1146.7 L1416.6,1148.7 L1417.8,1150.7 L1419.0,1152.6 L1420.2,1154.6 L1421.4,1156.6 L1422.6,1158.5 L1423.8,1160.5 L1425.0,1162.4 L1426.2,1164.4 L1427.5,1166.3 L1428.7,1168.3 L1429.9,1170.2 L1431.2,1172.2 L1432.4,1174.1 L1433.7,1176.0 L1435.0,1177.9 L1436.2,1179.8 L1437.5,1181.7 L1438.8,1183.6 L1440.2,1185.5 L1441.5,1187.4 L1442.8,1189.2 L1444.2,1191.1 L1445.6,1192.9 L1446.9,1194.7 L1448.3,1196.5 L1449.7,1198.4 L1451.2,1200.1 L1452.6,1201.9 L1454.0,1203.7 L1455.5,1205.4 L1457.0,1207.2 L1458.5,1208.9 L1460.0,1210.6 L1461.5,1212.3 L1463.0,1214.0 L1464.5,1215.7 L1466.1,1217.4 L1467.7,1219.0 L1469.3,1220.6 L1470.9,1222.3 L1472.5,1223.9 L1474.1,1225.4 L1475.8,1227.0 L1477.5,1228.6 L1479.1,1230.1 L1480.8,1231.6 L1482.6,1233.1 L1484.3,1234.6 L1486.0,1236.1 L1487.8,1237.5 L1489.6,1239.0 L1491.4,1240.4 L1493.2,1241.8 L1495.0,1243.2 L1496.9,1244.6 L1498.7,1245.9 L1500.6,1247.3 L1502.5,1248.6 L1504.4,1249.9 L1506.3,1251.2 L1508.2,1252.5 L1510.2,1253.7 L1512.1,1255.0 L1514.1,1256.2 L1516.0,1257.4 L1518.0,1258.6 L1520.0,1259.8 L1522.0,1261.0 L1524.0,1262.2 L1526.0,1263.3 L1528.0,1264.5 L1530.1,1265.6 L1532.1,1266.7 L1534.2,1267.9 L1536.2,1268.9 L1538.3,1270.0 L1540.3,1271.1 L1542.4,1272.2 L1544.5,1273.2 L1546.6,1274.3 L1548.7,1275.3 L1550.8,1276.3 L1552.9,1277.4 L1555.0,1278.4 L1557.1,1279.4 L1559.2,1280.4 L1561.3,1281.3 L1563.4,1282.3 L1565.5,1283.3 L1567.6,1284.2 L1569.7,1285.2 L1571.8,1286.1 L1573.9,1287.1 L1576.0,1288.0 L1578.1,1288.9 L1580.2,1289.8 L1582.4,1290.7 L1584.5,1291.7 L1586.6,1292.6 L1588.7,1293.4 L1590.8,1294.3 L1592.8,1295.2 L1594.9,1296.1 L1597.0,1297.0" stroke="#00ff00" stroke-width="12" stroke-linecap="round"/>
<path d="M453.0,1318.3 L455.5,1318.3 L458.1,1318.2 L460.6,1318.2 L463.1,1318.1 L465.7,1318.0 L468.2,1318.0 L470.7,1317.9 L473.2,1317.8 L475.7,1317.8 L478.2,1317.7 L480.7,1317.6 L483.2,1317.5 L485.7,1317.4 L488.2,1317.3 L490.6,1317.2 L493.1,1317.1 L495.6,1317.0 L498.0,1316.9 L500.5,1316.8 L503.0,1316.7 L505.4,1316.6 L507.9,1316.5 L510.3,1316.3 L512.8,1316.2 L515.2,1316.1 L517.7,1315.9 L520.1,1315.8 L522.6,1315.7 L525.0,1315.5 L527.4,1315.4 L529.9,1315.2 L532.3,1315.1 L534.7,1314.9 L537.2,1314.7 L539.6,1314.6 L542.0,1314.4 L544.5,1314.2 L546.9,1314.1 L549.3,1313.9 L551.8,1313.7 L554.2,1313.5 L556.7,1313.3 L559.1,1313.1 L561.5,1312.9 L564.0,1312.7 L566.4,1312.5 L568.8,1312.3 L571.3,1312.1 L573.7,1311.9 L576.2,1311.7 L578.6,1311.5 L581.1,1311.3 L583.5,1311.0 L586.0,1310.8 L588.4,1310.6 L590.9,1310.3 L593.4,1310.1 L595.8,1309.9 L598.3,1309.6 L600.8,1309.4 L603.3,1309.1 L605.8,1308.9 L608.2,1308.6 L610.7,1308.3 L613.2,1308.1 L615.7,1307.8 L618.2,1307.5 L620.8,1307.3 L623.3,1307.0 L625.8,1306.7 L628.3,1306.4 L630.9,1306.1 L633.4,1305.8 L635.9,1305.5 L638.5,1305.2 L641.0,1304.9 L643.5,1304.5 L646.0,1304.2 L648.6,1303.8 L651.1,1303.4 L653.6,1303.0 L656.1,1302.6 L658.6,1302.1 L661.1,1301.7 L663.6,1301.2 L666.1,1300.7 L668.6,1300.1 L671.0,1299.6 L673.5,1299.0 L675.9,1298.4 L678.3,1297.7 L680.7,1297.0 L683.1,1296.3 L685.5,1295.6 L687.8,1294.8 L690.1,1294.0 L692.5,1293.1 L694.7,1292.3 L697.0,1291.3 L699.3,1290.4 L701.5,1289.4 L703.7,1288.3 L705.9,1287.2 L708.0,1286.1 L710.2,1284.9 L712.3,1283.6 L714.3,1282.3 L716.4,1281.0 L718.4,1279.6 L720.4,1278.2 L722.3,1276.7 L724.2,1275.1 L726.1,1273.5 L728.0,1271.9 L729.8,1270.2 L731.6,1268.5 L733.4,1266.8 L735.2,1265.0 L736.9,1263.2 L738.6,1261.3 L740.3,1259.5 L742.0,1257.6 L743.6,1255.7 L745.3,1253.8 L746.9,1251.9 L748.5,1250.0 L750.1,1248.1 L751.7,1246.1 L753.3,1244.2 L754.8,1242.2 L756.3,1240.3 L757.9,1238.3 L759.4,1236.3 L760.9,1234.4 L762.3,1232.4 L763.8,1230.4 L765.2,1228.4 L766.7,1226.4 L768.1,1224.3 L769.5,1222.3 L770.9,1220.3 L772.3,1218.2 L773.6,1216.2 L775.0,1214.1 L776.3,1212.1 L777.6,1210.0 L778.9,1207.9 L780.2,1205.8 L781.5,1203.7 L782.8,1201.6 L784.1,1199.5 L785.3,1197.4 L786.5,1195.3 L787.8,1193.2 L789.0,1191.0 L790.2,1188.9 L791.4,1186.8 L792.5,1184.6 L793.7,1182.5 L794.8,1180.3 L796.0,1178.1 L797.1,1176.0 L798.2,1173.8 L799.3,1171.6 L800.4,1169.4 L801.5,1167.2 L802.6,1165.0 L803.7,1162.8 L804.7,1160.6 L805.8,1158.4 L806.8,1156.1 L807.8,1153.9 L808.8,1151.7 L809.8,1149.4 L810.8,1147.2 L811.8,1144.9 L812.8,1142.7 L813.8,1140.4 L814.7,1138.2 L815.7,1135.9 L816.6,1133.6 L817.5,1131.3 L818.4,1129.1 L819.4,1126.8 L820.3,1124.5 L821.2,1122.2 L822.0,1119.9 L822.9,1117.6 L823.8,1115.3 L824.7,1113.0 L825.5,1110.7 L826.4,1108.3 L827.2,1106.0 L828.0,1103.7 L828.8,1101.4 L829.7,1099.0 L830.5,1096.7 L831.3,1094.4 L832.1,1092.0 L832.9,1089.7 L833.6,1087.3 L834.4,1085.0 L835.2,1082.6 L836.0,1080.3 L836.7,1077.9 L837.5,1075.5 L838.2,1073.2 L839.0,1070.8 L839.7,1068.4 L840.4,1066.1 L841.1,1063.7 L841.9,1061.3 L842.6,1058.9 L843.3,1056.6 L844.0,1054.2 L844.7,1051.8 L845.4,1049.4 L846.1,1047.0 L846.8,1044.6 L847.4,1042.2 L848.1,1039.8 L848.8,1037.4 L849.4,1035.0 L850.1,1032.6 L850.8,1030.2 L851.4,1027.8 L852.1,1025.4 L852.7,1023.0 L853.4,1020.6 L854.0,1018.2 L854.7,1015.8 L855.3,1013.4 L855.9,1011.0 L856.6,1008.6 L857.2,1006.2 L857.8,1003.8 L858.4,1001.3 L859.1,998.9 L859.7,996.5 L860.3,994.1 L860.9,991.7 L861.5,989.3 L862.1,986.9 L862.8,984.5 L863.4,982.0 L864.0,979.6 L864.6,977.2 L865.2,974.8 L865.8,972.4 L866.4,970.0 L867.0,967.5 L867.6,965.1 L868.1,962.7 L868.7,960.3 L869.3,957.9 L869.9,955.4 L870.5,953.0 L871.1,950.6 L871.7,948.2 L872.2,945.8 L872.8,943.3 L873.4,940.9 L874.0,938.5 L874.5,936.1 L875.1,933.7 L875.7,931.2 L876.2,928.8 L876.8,926.4 L877.4,924.0 L877.9,921.5 L878.5,919.1 L879.0,916.7 L879.6,914.3 L880.2,911.8 L880.7,909.4 L881.3,907.0 L881.8,904.6 L882.4,902.1 L882.9,899.7 L883.4,897.3 L884.0,894.9 L884.5,892.4 L885.1,890.0 L885.6,887.6 L886.1,885.1 L886.7,882.7 L887.2,880.3 L887.8,877.9 L888.3,875.4 L888.8,873.0 L889.3,870.6 L889.9,868.1 L890.4,865.7 L890.9,863.3 L891.5,860.9 L892.0,858.4 L892.5,856.0 L893.0,853.6 L893.5,851.1 L894.1,848.7 L894.6,846.3 L895.1,843.8 L895.6,841.4 L896.1,839.0 L896.6,836.5 L897.1,834.1 L897.6,831.7 L898.2,829.3 L898.7,826.8 L899.2,824.4 L899.7,822.0 L900.2,819.5 L900.7,817.1 L901.2,814.7 L901.7,812.2 L902.2,809.8 L902.7,807.4 L903.2,804.9 L903.7,802.5 L904.2,800.1 L904.7,797.6 L905.2,795.2 L905.7,792.7 L906.2,790.3 L906.6,787.9 L907.1,785.4 L907.6,783.0 L908.1,780.6 L908.6,778.1 L909.1,775.7 L909.6,773.3 L910.1,770.8 L910.6,768.4 L911.0,766.0 L911.5,763.5 L912.0,761.1 L912.5,758.7 L913.0,756.2 L913.5,753.8 L913.9,751.4 L914.4,748.9 L914.9,746.5 L915.4,744.0 L915.9,741.6 L916.3,739.2 L916.8,736.7 L917.3,734.3 L917.8,731.9 L918.2,729.4 L918.7,727.0 L919.2,724.6 L919.7,722.1 L920.2,719.7 L920.6,717.3 L921.1,714.8 L921.6,712.4 L922.0,709.9 L922.5,707.5 L923.0,705.1 L923.5,702.6 L923.9,700.2 L924.4,697.8 L924.9,695.3 L925.4,692.9 L925.8,690.5 L926.3,688.0 L926.8,685.6 L927.2,683.2 L927.7,680.7 L928.2,678.3 L928.6,675.9 L929.1,673.4 L929.6,671.0 L930.1,668.6 L930.5,666.1 L931.0,663.7 L931.5,661.2 L931.9,658.8 L932.4,656.4 L932.9,653.9 L933.3,651.5 L933.8,649.1 L934.3,646.6 L934.7,644.2 L935.2,641.8 L935.7,639.3 L936.2,636.9 L936.6,634.5 L937.1,632.0 L937.6,629.6 L938.0,627.2 L938.5,624.7 L939.0,622.3 L939.5,619.9 L939.9,617.5 L940.4,615.0 L940.9,612.6 L941.3,610.2 L941.8,607.7 L942.3,605.3 L942.8,602.9 L943.2,600.4 L943.7,598.0 L944.2,595.6 L944.6,593.1 L945.1,590.7 L945.6,588.3 L946.1,585.9 L946.5,583.4 L947.0,581.0 L947.5,578.6 L948.0,576.1 L948.5,573.7 L948.9,571.3 L949.4,568.9 L949.9,566.4 L950.4,564.0 L950.9,561.6 L951.3,559.2 L951.8,556.7 L952.3,554.3 L952.8,551.9 L953.3,549.4 L953.8,547.0 L954.2,544.6 L954.7,542.2 L955.2,539.7 L955.7,537.3 L956.2,534.9 L956.7,532.5 L957.2,530.1 L957.6,527.6 L958.1,525.2 L958.6,522.8 L959.1,520.4 L959.6,517.9 L960.1,515.5 L960.6,513.1 L961.1,510.7 L961.6,508.3 L962.1,505.8 L962.6,503.4 L963.1,501.0 L963.6,498.6 L964.1,496.2 L964.6,493.7 L965.1,491.3 L965.6,488.9 L966.1,486.5 L966.6,484.1 L967.1,481.7 L967.6,479.2 L968.1,476.8 L968.7,474.4 L969.2,472.0 L969.7,469.6 L970.2,467.2 L970.7,464.8 L971.2,462.3 L971.8,459.9 L972.3,457.5 L972.8,455.1 L973.3,452.7 L973.8,450.3 L974.4,447.9 L974.9,445.5 L975.4,443.1 L975.9,440.6 L976.5,438.2 L977.0,435.8 L977.5,433.4 L978.1,431.0 L978.6,428.6 L979.1,426.2 L979.7,423.8 L980.2,421.4 L980.8,419.0 L981.3,416.6 L981.8,414.2 L982.4,411.8 L982.9,409.4 L983.5,407.0 L984.0,404.6 L984.6,402.2 L985.1,399.8 L985.7,397.4 L986.3,395.0 L986.8,392.6 L987.4,390.2 L987.9,387.8 L988.5,385.4 L989.1,383.0 L989.6,380.6 L990.2,378.2 L990.8,375.8 L991.3,373.4 L991.9,371.0 L992.5,368.6 L993.1,366.2 L993.6,363.8 L994.2,361.4 L994.8,359.0 L995.4,356.6 L996.0,354.2 L996.6,351.9 L997.2,349.5 L997.7,347.1 L998.3,344.7 L998.9,342.3 L999.5,339.9 L1000.1,337.5 L1000.7,335.1 L1001.3,332.8 L1001.9,330.4 L1002.6,328.0 L1003.2,325.6 L1003.8,323.2 L1004.4,320.8 L1005.0,318.5 L1005.6,316.1 L1006.3,313.7 L1006.9,311.3 L1007.6,308.9 L1008.2,306.6 L1008.9,304.2 L1009.5,301.8 L1010.2,299.4 L1010.8,297.1 L1011.5,294.7 L1012.2,292.3 L1012.9,289.9 L1013.6,287.6 L1014.3,285.2 L1015.0,282.8 L1015.8,280.5 L1016.5,278.1 L1017.3,275.7 L1018.0,273.4 L1018.8,271.0 L1019.6,268.7 L1020.4,266.3 L1021.2,263.9 L1022.0,261.6 L1022.8,259.2 L1023.6,256.9 L1024.5,254.5 L1025.4,252.2 L1026.2,249.8 L1027.1,247.5 L1028.0,245.1 L1029.0,242.8 L1029.9,240.4 L1030.8,238.1 L1031.8,235.8 L1032.8,233.4 L1033.8,231.1 L1034.8,228.7 L1035.8,226.4 L1036.9,224.1 L1038.0,221.7 L1039.0,219.4 L1040.2,217.1 L1041.3,214.8 L1042.4,212.5 L1043.6,210.2 L1044.8,207.9 L1046.1,205.7 L1047.4,203.5 L1048.7,201.3 L1050.1,199.2 L1051.6,197.2 L1053.1,195.2 L1054.7,193.3 L1056.4,191.5 L1058.1,189.8 L1060.0,188.2 L1061.9,186.6 L1063.9,185.2 L1066.0,183.9 L1068.2,182.8 L1070.5,181.7 L1072.8,180.8 L1075.2,180.1 L1077.6,179.6 L1080.0,179.2 L1082.3,179.1 L1084.7,179.1 L1087.0,179.4 L1089.3,179.9 L1091.4,180.6 L1093.6,181.5 L1095.6,182.6 L1097.6,183.9 L1099.5,185.4 L1101.4,187.0 L1103.2,188.8 L1104.9,190.6 L1106.6,192.6 L1108.1,194.7 L1109.7,196.9 L1111.1,199.1 L1112.5,201.3 L1113.8,203.6 L1115.1,205.9 L1116.3,208.2 L1117.4,210.6 L1118.5,212.9 L1119.5,215.2 L1120.5,217.5 L1121.4,219.9 L1122.3,222.2 L1123.3,224.5 L1124.1,226.8 L1125.0,229.1 L1125.9,231.4 L1126.8,233.7 L1127.7,236.0 L1128.6,238.3 L1129.5,240.6 L1130.4,242.9 L1131.4,245.2 L1132.3,247.5 L1133.2,249.7 L1134.1,252.0 L1135.0,254.3 L1135.9,256.6 L1136.8,258.8 L1137.8,261.1 L1138.7,263.4 L1139.6,265.7 L1140.5,267.9 L1141.4,270.2 L1142.3,272.5 L1143.1,274.8 L1144.0,277.1 L1144.9,279.4 L1145.8,281.7 L1146.6,284.0 L1147.5,286.2 L1148.3,288.6 L1149.2,290.9 L1150.0,293.2 L1150.8,295.5 L1151.7,297.8 L1152.5,300.1 L1153.3,302.4 L1154.1,304.8 L1154.9,307.1 L1155.7,309.4 L1156.5,311.7 L1157.3,314.1 L1158.1,316.4 L1158.9,318.7 L1159.6,321.1 L1160.4,323.4 L1161.2,325.8 L1161.9,328.1 L1162.7,330.5 L1163.4,332.8 L1164.2,335.2 L1164.9,337.5 L1165.6,339.9 L1166.4,342.3 L1167.1,344.6 L1167.8,347.0 L1168.5,349.3 L1169.3,351.7 L1170.0,354.1 L1170.7,356.5 L1171.4,358.8 L1172.1,361.2 L1172.8,363.6 L1173.5,366.0 L1174.2,368.3 L1174.9,370.7 L1175.6,373.1 L1176.2,375.5 L1176.9,377.9 L1177.6,380.2 L1178.3,382.6 L1179.0,385.0 L1179.6,387.4 L1180.3,389.8 L1181.0,392.2 L1181.6,394.6 L1182.3,397.0 L1183.0,399.4 L1183.6,401.8 L1184.3,404.2 L1184.9,406.6 L1185.6,409.0 L1186.2,411.3 L1186.9,413.7 L1187.5,416.1 L1188.2,418.5 L1188.8,420.9 L1189.5,423.3 L1190.1,425.7 L1190.8,428.1 L1191.4,430.5 L1192.1,432.9 L1192.7,435.3 L1193.3,437.7 L1194.0,440.1 L1194.6,442.5 L1195.3,444.9 L1195.9,447.3 L1196.6,449.7 L1197.2,452.1 L1197.8,454.6 L1198.5,457.0 L1199.1,459.4 L1199.7,461.8 L1200.4,464.2 L1201.0,466.6 L1201.7,469.0 L1202.3,471.4 L1202.9,473.8 L1203.6,476.2 L1204.2,478.6 L1204.8,481.0 L1205.5,483.4 L1206.1,485.8 L1206.7,488.2 L1207.4,490.6 L1208.0,493.0 L1208.6,495.4 L1209.3,497.8 L1209.9,500.2 L1210.5,502.6 L1211.2,505.0 L1211.8,507.4 L1212.4,509.8 L1213.1,512.2 L1213.7,514.6 L1214.3,517.0 L1215.0,519.4 L1215.6,521.8 L1216.2,524.2 L1216.9,526.6 L1217.5,529.0 L1218.1,531.4 L1218.8,533.8 L1219.4,536.2 L1220.0,538.6 L1220.7,541.0 L1221.3,543.4 L1221.9,545.8 L1222.6,548.2 L1223.2,550.6 L1223.8,553.0 L1224.5,555.4 L1225.1,557.8 L1225.7,560.2 L1226.4,562.6 L1227.0,565.0 L1227.6,567.4 L1228.3,569.8 L1228.9,572.2 L1229.5,574.6 L1230.2,577.0 L1230.8,579.4 L1231.4,581.8 L1232.1,584.2 L1232.7,586.6 L1233.4,589.0 L1234.0,591.4 L1234.6,593.8 L1235.3,596.2 L1235.9,598.6 L1236.6,601.0 L1237.2,603.4 L1237.8,605.8 L1238.5,608.2 L1239.1,610.6 L1239.8,613.0 L1240.4,615.4 L1241.1,617.8 L1241.7,620.2 L1242.3,622.6 L1243.0,625.0 L1243.6,627.4 L1244.3,629.8 L1244.9,632.2 L1245.6,634.6 L1246.2,637.0 L1246.9,639.4 L1247.5,641.7 L1248.2,644.1 L1248.8,646.5 L1249.5,648.9 L1250.2,651.3 L1250.8,653.7 L1251.5,656.1 L1252.1,658.5 L1252.8,660.9 L1253.4,663.3 L1254.1,665.7 L1254.8,668.1 L1255.4,670.4 L1256.1,672.8 L1256.7,675.2 L1257.4,677.6 L1258.1,680.0 L1258.7,682.4 L1259.4,684.8 L1260.1,687.2 L1260.8,689.5 L1261.4,691.9 L1262.1,694.3 L1262.8,696.7 L1263.5,699.1 L1264.1,701.5 L1264.8,703.9 L1265.5,706.2 L1266.2,708.6 L1266.8,711.0 L1267.5,713.4 L1268.2,715.8 L1268.9,718.1 L1269.6,720.5 L1270.3,722.9 L1271.0,725.3 L1271.7,727.7 L1272.3,730.0 L1273.0,732.4 L1273.7,734.8 L1274.4,737.2 L1275.1,739.5 L1275.8,741.9 L1276.5,744.3 L1277.2,746.7 L1277.9,749.0 L1278.6,751.4 L1279.3,753.8 L1280.1,756.2 L1280.8,758.5 L1281.5,760.9 L1282.2,763.3 L1282.9,765.6 L1283.6,768.0 L1284.3,770.4 L1285.1,772.8 L1285.8,775.1 L1286.5,777.5 L1287.2,779.9 L1288.0,782.2 L1288.7,784.6 L1289.4,787.0 L1290.1,789.3 L1290.9,791.7 L1291.6,794.0 L1292.4,796.4 L1293.1,798.8 L1293.8,801.1 L1294.6,803.5 L1295.3,805.8 L1296.1,808.2 L1296.8,810.6 L1297.6,812.9 L1298.3,815.3 L1299.1,817.6 L1299.8,820.0 L1300.6,822.3 L1301.4,824.7 L1302.1,827.1 L1302.9,829.4 L1303.6,831.8 L1304.4,834.1 L1305.2,836.5 L1306.0,838.8 L1306.7,841.2 L1307.5,843.5 L1308.3,845.9 L1309.1,848.2 L1309.9,850.5 L1310.6,852.9 L1311.4,855.2 L1312.2,857.6 L1313.0,859.9 L1313.8,862.3 L1314.6,864.6 L1315.4,866.9 L1316.2,869.3 L1317.0,871.6 L1317.8,874.0 L1318.6,876.3 L1319.4,878.6 L1320.3,881.0 L1321.1,883.3 L1321.9,885.6 L1322.7,888.0 L1323.5,890.3 L1324.4,892.6 L1325.2,895.0 L1326.0,897.3 L1326.9,899.6 L1327.7,901.9 L1328.5,904.3 L1329.4,906.6 L1330.2,908.9 L1331.1,911.3 L1331.9,913.6 L1332.8,915.9 L1333.6,918.2 L1334.5,920.5 L1335.4,922.9 L1336.2,925.2 L1337.1,927.5 L1337.9,929.8 L1338.8,932.1 L1339.7,934.4 L1340.6,936.8 L1341.5,939.1 L1342.3,941.4 L1343.2,943.7 L1344.1,946.0 L1345.0,948.3 L1345.9,950.6 L1346.8,952.9 L1347.7,955.2 L1348.6,957.5 L1349.5,959.8 L1350.4,962.1 L1351.3,964.4 L1352.2,966.7 L1353.2,969.0 L1354.1,971.3 L1355.0,973.6 L1355.9,975.9 L1356.9,978.2 L1357.8,980.5 L1358.7,982.8 L1359.7,985.1 L1360.6,987.4 L1361.6,989.7 L1362.5,992.0 L1363.5,994.3 L1364.4,996.6 L1365.4,998.8 L1366.3,1001.1 L1367.3,1003.4 L1368.3,1005.7 L1369.3,1008.0 L1370.2,1010.3 L1371.2,1012.5 L1372.2,1014.8 L1373.2,1017.1 L1374.2,1019.4 L1375.2,1021.6 L1376.2,1023.9 L1377.2,1026.2 L1378.2,1028.5 L1379.2,1030.7 L1380.2,1033.0 L1381.2,1035.3 L1382.2,1037.5 L1383.2,1039.8 L1384.2,1042.1 L1385.3,1044.3 L1386.3,1046.6 L1387.3,1048.8 L1388.4,1051.1 L1389.4,1053.4 L1390.5,1055.6 L1391.5,1057.9 L1392.6,1060.1 L1393.6,1062.4 L1394.7,1064.6 L1395.8,1066.9 L1396.8,1069.1 L1405.3,1071.9 L1406.4,1073.9 L1407.6,1075.9 L1408.7,1077.9 L1409.9,1079.9 L1411.0,1082.0 L1412.1,1084.0 L1413.2,1086.1 L1414.2,1088.1 L1415.3,1090.2 L1416.4,1092.2 L1417.4,1094.3 L1418.5,1096.4 L1419.5,1098.5 L1420.5,1100.6 L1421.6,1102.6 L1422.6,1104.7 L1423.6,1106.8 L1424.6,1108.9 L1425.6,1111.0 L1426.6,1113.1 L1427.6,1115.2 L1428.6,1117.3 L1429.6,1119.4 L1430.7,1121.5 L1431.7,1123.6 L1432.7,1125.7 L1433.7,1127.8 L1434.7,1129.9 L1435.7,1132.0 L1436.7,1134.1 L1437.8,1136.2 L1438.8,1138.3 L1439.8,1140.4 L1440.9,1142.4 L1441.9,1144.5 L1443.0,1146.6 L1444.0,1148.6 L1445.1,1150.7 L1446.2,1152.7 L1447.3,1154.7 L1448.4,1156.8 L1449.5,1158.8 L1450.7,1160.8 L1451.8,1162.8 L1453.0,1164.8 L1454.1,1166.7 L1455.3,1168.7 L1456.5,1170.6 L1457.8,1172.6 L1459.0,1174.5 L1460.3,1176.4 L1461.5,1178.3 L1462.8,1180.2 L1464.1,1182.1 L1465.5,1184.0 L1466.8,1185.8 L1468.2,1187.6 L1469.6,1189.4 L1471.0,1191.2 L1472.5,1193.0 L1473.9,1194.8 L1475.4,1196.5 L1476.9,1198.3 L1478.5,1200.0 L1480.1,1201.7 L1481.6,1203.3 L1483.2,1205.0 L1484.9,1206.6 L1486.5,1208.3 L1488.2,1209.9 L1489.9,1211.5 L1491.6,1213.0 L1493.3,1214.6 L1495.1,1216.2 L1496.8,1217.7 L1498.6,1219.2 L1500.4,1220.7 L1502.2,1222.2 L1504.1,1223.7 L1505.9,1225.2 L1507.8,1226.6 L1509.6,1228.1 L1511.5,1229.5 L1513.4,1230.9 L1515.3,1232.3 L1517.2,1233.7 L1519.2,1235.1 L1521.1,1236.5 L1523.0,1237.8 L1525.0,1239.2 L1527.0,1240.5 L1528.9,1241.8 L1530.9,1243.2 L1532.9,1244.5 L1534.9,1245.8 L1536.9,1247.0 L1538.9,1248.3 L1540.9,1249.6 L1542.9,1250.9 L1545.0,1252.1 L1547.0,1253.4 L1549.0,1254.6 L1551.0,1255.8 L1553.1,1257.0 L1555.1,1258.3 L1557.1,1259.5 L1559.2,1260.7 L1561.2,1261.9 L1563.2,1263.0 L1565.2,1264.2 L1567.3,1265.4 L1569.3,1266.6 L1571.3,1267.7 L1573.3,1268.9 L1575.3,1270.1 L1577.3,1271.2 L1579.3,1272.4 L1581.3,1273.5 L1583.3,1274.6 L1585.3,1275.8 L1587.2,1276.9 L1589.2,1278.0 L1591.2,1279.2 L1593.1,1280.3 L1595.0,1281.4 L1596.9,1282.5" stroke="#0000ff" stroke-width="12" stroke-linecap="round"/>
<path d="M242.0,1246.1 L244.1,1244.5 L246.1,1242.9 L248.1,1241.3 L250.1,1239.7 L252.1,1238.1 L254.0,1236.5 L255.9,1234.8 L257.7,1233.1 L259.6,1231.4 L261.4,1229.7 L263.2,1227.9 L264.9,1226.2 L266.6,1224.4 L268.3,1222.6 L270.0,1220.8 L271.6,1218.9 L273.2,1217.1 L274.8,1215.2 L276.4,1213.4 L277.9,1211.5 L279.4,1209.6 L280.9,1207.6 L282.4,1205.7 L283.8,1203.7 L285.2,1201.8 L286.6,1199.8 L288.0,1197.8 L289.4,1195.8 L290.7,1193.8 L292.0,1191.7 L293.3,1189.7 L294.5,1187.6 L295.8,1185.5 L297.0,1183.4 L298.2,1181.3 L299.4,1179.2 L300.5,1177.1 L301.7,1174.9 L302.8,1172.8 L303.9,1170.6 L305.0,1168.5 L306.1,1166.3 L307.1,1164.1 L308.1,1161.9 L309.2,1159.7 L310.2,1157.4 L311.2,1155.2 L312.1,1153.0 L313.1,1150.7 L314.0,1148.4 L314.9,1146.2 L315.8,1143.9 L316.7,1141.6 L317.6,1139.3 L318.5,1137.0 L319.3,1134.7 L320.2,1132.4 L321.0,1130.0 L321.8,1127.7 L322.6,1125.4 L323.4,1123.0 L324.2,1120.7 L325.0,1118.3 L325.7,1115.9 L326.5,1113.6 L327.2,1111.2 L328.0,1108.8 L328.7,1106.4 L329.4,1104.0 L330.1,1101.6 L330.8,1099.2 L331.5,1096.8 L332.2,1094.4 L332.8,1092.0 L333.5,1089.6 L334.2,1087.2 L334.8,1084.8 L335.5,1082.3 L336.1,1079.9 L336.8,1077.5 L337.4,1075.1 L338.0,1072.6 L338.7,1070.2 L339.3,1067.8 L339.9,1065.3 L340.5,1062.9 L341.1,1060.4 L341.7,1058.0 L342.3,1055.6 L342.9,1053.1 L343.5,1050.7 L344.1,1048.3 L344.7,1045.8 L345.3,1043.4 L345.9,1040.9 L346.5,1038.5 L347.1,1036.1 L347.7,1033.6 L348.3,1031.2 L348.9,1028.8 L349.5,1026.3 L350.1,1023.9 L350.7,1021.5 L351.3,1019.0 L351.9,1016.6 L352.5,1014.2 L353.1,1011.7 L353.6,1009.3 L354.2,1006.9 L354.8,1004.5 L355.4,1002.0 L356.0,999.6 L356.6,997.2 L357.1,994.7 L357.7,992.3 L358.3,989.9 L358.9,987.5 L359.4,985.0 L360.0,982.6 L360.6,980.2 L361.2,977.8 L361.7,975.3 L362.3,972.9 L362.9,970.5 L363.4,968.1 L364.0,965.6 L364.6,963.2 L365.1,960.8 L365.7,958.4 L366.3,955.9 L366.8,953.5 L367.4,951.1 L368.0,948.7 L368.5,946.3 L369.1,943.8 L369.6,941.4 L370.2,939.0 L370.7,936.6 L371.3,934.1 L371.8,931.7 L372.4,929.3 L373.0,926.9 L373.5,924.5 L374.1,922.1 L374.6,919.6 L375.1,917.2 L375.7,914.8 L376.2,912.4 L376.8,910.0 L377.3,907.5 L377.9,905.1 L378.4,902.7 L379.0,900.3 L379.5,897.9 L380.0,895.5 L380.6,893.0 L381.1,890.6 L381.7,888.2 L382.2,885.8 L382.7,883.4 L383.3,881.0 L383.8,878.5 L384.3,876.1 L384.9,873.7 L385.4,871.3 L385.9,868.9 L386.5,866.5 L387.0,864.0 L387.5,861.6 L388.0,859.2 L388.6,856.8 L389.1,854.4 L389.6,852.0 L390.1,849.6 L390.7,847.1 L391.2,844.7 L391.7,842.3 L392.2,839.9 L392.7,837.5 L393.3,835.1 L393.8,832.7 L394.3,830.2 L394.8,827.8 L395.3,825.4 L395.8,823.0 L396.3,820.6 L396.9,818.2 L397.4,815.8 L397.9,813.3 L398.4,810.9 L398.9,808.5 L399.4,806.1 L399.9,803.7 L400.4,801.3 L400.9,798.9 L401.4,796.4 L401.9,794.0 L402.4,791.6 L402.9,789.2 L403.4,786.8 L403.9,784.4 L404.4,782.0 L404.9,779.5 L405.4,777.1 L405.9,774.7 L406.4,772.3 L406.9,769.9 L407.4,767.5 L407.9,765.0 L408.4,762.6 L408.9,760.2 L409.4,757.8 L409.9,755.4 L410.4,753.0 L410.9,750.5 L411.4,748.1 L411.9,745.7 L412.4,743.3 L412.8,740.9 L413.3,738.5 L413.8,736.0 L414.3,733.6 L414.8,731.2 L415.3,728.8 L415.8,726.4 L416.2,723.9 L416.7,721.5 L417.2,719.1 L417.7,716.7 L418.2,714.3 L418.6,711.8 L419.1,709.4 L419.6,707.0 L420.1,704.6 L420.6,702.2 L421.0,699.7 L421.5,697.3 L422.0,694.9 L422.5,692.5 L422.9,690.1 L423.4,687.6 L423.9,685.2 L424.3,682.8 L424.8,680.4 L425.3,677.9 L425.8,675.5 L426.2,673.1 L426.7,670.7 L427.2,668.2 L427.6,665.8 L428.1,663.4 L428.6,661.0 L429.0,658.5 L429.5,656.1 L430.0,653.7 L430.4,651.2 L430.9,648.8 L431.3,646.4 L431.8,644.0 L432.3,641.5 L432.7,639.1 L433.2,636.7 L433.6,634.2 L434.1,631.8 L434.6,629.4 L435.0,626.9 L435.5,624.5 L435.9,622.1 L436.4,619.6 L436.8,617.2 L437.3,614.8 L437.7,612.3 L438.2,609.9 L438.7,607.5 L439.1,605.0 L439.6,602.6 L440.0,600.2 L440.5,597.7 L440.9,595.3 L441.4,592.8 L441.8,590.4 L442.3,588.0 L442.7,585.5 L443.2,583.1 L443.6,580.6 L444.0,578.2 L444.5,575.7 L444.9,573.3 L445.4,570.9 L445.8,568.4 L446.3,566.0 L446.7,563.5 L447.2,561.1 L447.6,558.6 L448.0,556.2 L448.5,553.7 L448.9,551.3 L449.4,548.8 L449.8,546.4 L450.3,543.9 L450.7,541.5 L451.1,539.0 L451.6,536.6 L452.0,534.1 L452.5,531.7 L452.9,529.2 L453.4,526.8 L453.8,524.3 L454.3,521.9 L454.7,519.4 L455.2,517.0 L455.6,514.6 L456.1,512.1 L456.5,509.7 L457.0,507.2 L457.4,504.8 L457.9,502.3 L458.3,499.9 L458.8,497.4 L459.3,495.0 L459.7,492.5 L460.2,490.1 L460.7,487.6 L461.1,485.2 L461.6,482.7 L462.1,480.3 L462.5,477.8 L463.0,475.4 L463.5,472.9 L464.0,470.5 L464.5,468.1 L464.9,465.6 L465.4,463.2 L465.9,460.7 L466.4,458.3 L466.9,455.8 L467.4,453.4 L467.9,451.0 L468.4,448.5 L468.9,446.1 L469.4,443.7 L470.0,441.2 L470.5,438.8 L471.0,436.4 L471.5,433.9 L472.0,431.5 L472.6,429.1 L473.1,426.6 L473.6,424.2 L474.2,421.8 L474.7,419.4 L475.3,416.9 L475.8,414.5 L476.4,412.1 L476.9,409.7 L477.5,407.3 L478.1,404.8 L478.7,402.4 L479.2,400.0 L479.8,397.6 L480.4,395.2 L481.0,392.8 L481.6,390.4 L482.2,388.0 L482.8,385.6 L483.4,383.2 L484.0,380.8 L484.6,378.4 L485.3,376.0 L485.9,373.6 L486.5,371.2 L487.2,368.8 L487.8,366.4 L488.5,364.0 L489.1,361.6 L489.8,359.2 L490.5,356.8 L491.1,354.5 L491.8,352.1 L492.5,349.7 L493.2,347.3 L493.9,344.9 L494.6,342.6 L495.3,340.2 L496.0,337.8 L496.7,335.5 L497.4,333.1 L498.2,330.7 L498.9,328.4 L499.7,326.0 L500.4,323.7 L501.2,321.3 L501.9,319.0 L502.7,316.6 L503.5,314.3 L504.3,312.0 L505.1,309.6 L505.9,307.3 L506.7,304.9 L507.5,302.6 L508.3,300.3 L509.2,298.0 L510.0,295.6 L510.8,293.3 L511.7,291.0 L512.6,288.7 L513.4,286.4 L514.3,284.1 L515.2,281.8 L516.1,279.5 L517.0,277.2 L517.9,274.9 L518.8,272.6 L519.7,270.3 L520.7,268.0 L521.6,265.7 L522.5,263.4 L523.5,261.1 L524.5,258.9 L525.4,256.6 L526.4,254.3 L527.4,252.1 L528.4,249.8 L529.4,247.5 L530.4,245.3 L531.5,243.0 L532.5,240.8 L533.6,238.5 L534.6,236.3 L535.7,234.1 L536.8,231.9 L537.9,229.7 L539.1,227.5 L540.2,225.3 L541.4,223.1 L542.6,221.0 L543.9,218.8 L545.2,216.7 L546.5,214.6 L547.8,212.6 L549.1,210.5 L550.5,208.5 L552.0,206.5 L553.5,204.5 L555.0,202.5 L556.5,200.6 L558.1,198.7 L559.7,196.8 L561.4,194.9 L563.1,193.1 L564.9,191.3 L566.7,189.6 L568.5,187.9 L570.4,186.2 L572.4,184.6 L574.4,183.0 L576.4,181.4 L578.5,179.9 L580.6,178.6 L582.8,177.3 L585.0,176.3 L587.3,175.5 L589.5,175.1 L591.8,174.9 L594.1,175.2 L596.4,175.7 L598.7,176.5 L601.0,177.5 L603.3,178.7 L605.5,180.0 L607.7,181.4 L609.8,182.9 L611.9,184.4 L614.0,185.9 L616.0,187.5 L617.9,189.1 L619.8,190.8 L621.7,192.4 L623.5,194.2 L625.3,195.9 L627.0,197.7 L628.7,199.5 L630.4,201.3 L632.0,203.2 L633.6,205.0 L635.2,206.9 L636.8,208.8 L638.3,210.8 L639.8,212.7 L641.3,214.7 L642.7,216.6 L644.1,218.6 L645.6,220.6 L646.9,222.6 L648.3,224.7 L649.7,226.7 L651.0,228.8 L652.3,230.8 L653.6,232.9 L654.9,235.0 L656.1,237.1 L657.3,239.2 L658.6,241.3 L659.7,243.5 L660.9,245.6 L662.1,247.8 L663.2,249.9 L664.4,252.1 L665.5,254.3 L666.6,256.5 L667.7,258.7 L668.7,260.9 L669.8,263.1 L670.8,265.3 L671.9,267.6 L672.9,269.8 L673.9,272.1 L674.9,274.3 L675.9,276.6 L676.8,278.9 L677.8,281.2 L678.7,283.5 L679.7,285.8 L680.6,288.1 L681.5,290.4 L682.4,292.7 L683.3,295.0 L684.2,297.3 L685.1,299.7 L686.0,302.0 L686.8,304.3 L687.7,306.7 L688.6,309.0 L689.4,311.4 L690.3,313.7 L691.1,316.1 L691.9,318.4 L692.8,320.8 L693.6,323.2 L694.4,325.5 L695.2,327.9 L696.0,330.3 L696.9,332.6 L697.7,335.0 L698.5,337.4 L699.3,339.8 L700.1,342.1 L700.9,344.5 L701.7,346.9 L702.5,349.3 L703.3,351.6 L704.1,354.0 L704.9,356.4 L705.7,358.8 L706.6,361.1 L707.4,363.5 L708.2,365.9 L709.0,368.2 L709.8,370.6 L710.6,373.0 L711.4,375.4 L712.3,377.7 L713.1,380.1 L713.9,382.4 L714.7,384.8 L715.6,387.2 L716.4,389.5 L717.2,391.9 L718.0,394.3 L718.9,396.6 L719.7,399.0 L720.5,401.3 L721.3,403.7 L722.2,406.0 L723.0,408.4 L723.8,410.8 L724.7,413.1 L725.5,415.5 L726.3,417.8 L727.2,420.2 L728.0,422.5 L728.8,424.9 L729.7,427.2 L730.5,429.6 L731.4,431.9 L732.2,434.3 L733.0,436.6 L733.9,439.0 L734.7,441.3 L735.6,443.6 L736.4,446.0 L737.2,448.3 L738.1,450.7 L738.9,453.0 L739.8,455.4 L740.6,457.7 L741.4,460.0 L742.3,462.4 L743.1,464.7 L744.0,467.1 L744.8,469.4 L745.7,471.7 L746.5,474.1 L747.3,476.4 L748.2,478.7 L749.0,481.1 L749.9,483.4 L750.7,485.7 L751.5,488.1 L752.4,490.4 L753.2,492.7 L754.1,495.1 L754.9,497.4 L755.8,499.7 L756.6,502.0 L757.4,504.4 L758.3,506.7 L759.1,509.0 L760.0,511.4 L760.8,513.7 L761.6,516.0 L762.5,518.3 L763.3,520.7 L764.2,523.0 L765.0,525.3 L765.8,527.6 L766.7,530.0 L767.5,532.3 L768.3,534.6 L769.2,536.9 L770.0,539.2 L770.9,541.6 L771.7,543.9 L772.5,546.2 L773.4,548.5 L774.2,550.8 L775.0,553.2 L775.9,555.5 L776.7,557.8 L777.5,560.1 L778.4,562.4 L779.2,564.7 L780.0,567.1 L780.9,569.4 L781.7,571.7 L782.5,574.0 L783.4,576.3 L784.2,578.6 L785.0,580.9 L785.9,583.3 L786.7,585.6 L787.5,587.9 L788.4,590.2 L789.2,592.5 L790.0,594.8 L790.9,597.1 L791.7,599.4 L792.6,601.8 L793.4,604.1 L794.2,606.4 L795.1,608.7 L795.9,611.0 L796.7,613.3 L797.6,615.6 L798.4,617.9 L799.2,620.2 L800.1,622.5 L800.9,624.8 L801.8,627.2 L802.6,629.5 L803.4,631.8 L804.3,634.1 L805.1,636.4 L806.0,638.7 L806.8,641.0 L807.6,643.3 L808.5,645.6 L809.3,647.9 L810.2,650.2 L811.0,652.5 L811.9,654.8 L812.7,657.1 L813.6,659.5 L814.4,661.8 L815.2,664.1 L816.1,666.4 L816.9,668.7 L817.8,671.0 L818.6,673.3 L819.5,675.6 L820.3,677.9 L821.2,680.2 L822.1,682.5 L822.9,684.8 L823.8,687.1 L824.6,689.4 L825.5,691.7 L826.3,694.0 L827.2,696.3 L828.0,698.6 L828.9,700.9 L829.8,703.3 L830.6,705.6 L831.5,707.9 L832.4,710.2 L833.2,712.5 L834.1,714.8 L835.0,717.1 L835.8,719.4 L836.7,721.7 L837.6,724.0 L838.4,726.3 L839.3,728.6 L840.2,730.9 L841.1,733.2 L841.9,735.5 L842.8,737.8 L843.7,740.1 L844.6,742.4 L845.4,744.7 L846.3,747.1 L847.2,749.4 L848.1,751.7 L849.0,754.0 L849.9,756.3 L850.8,758.6 L851.7,760.9 L852.5,763.2 L853.4,765.5 L854.3,767.8 L855.2,770.1 L856.1,772.4 L857.0,774.7 L857.9,777.0 L858.8,779.4 L859.7,781.7 L860.6,784.0 L861.5,786.3 L862.4,788.6 L863.4,790.9 L864.3,793.2 L865.2,795.5 L866.1,797.8 L867.0,800.1 L867.9,802.4 L868.8,804.8 L869.8,807.1 L870.7,809.4 L871.6,811.7 L872.5,814.0 L873.5,816.3 L874.4,818.6 L875.3,820.9 L876.3,823.3 L877.2,825.6 L878.1,827.9 L879.1,830.2 L880.0,832.5 L881.0,834.8 L881.9,837.1 L882.9,839.4 L883.8,841.8 L884.8,844.1 L885.7,846.4 L886.7,848.7 L887.6,851.0 L888.6,853.3 L889.5,855.6 L890.5,857.9 L891.5,860.3 L892.5,862.6 L893.4,864.9 L894.4,867.2 L895.4,869.5 L896.4,871.8 L897.4,874.1 L898.3,876.4 L899.3,878.7 L900.3,881.0 L901.3,883.3 L902.3,885.6 L903.3,887.9 L904.3,890.2 L905.3,892.5 L906.3,894.8 L907.4,897.1 L908.4,899.4 L909.4,901.7 L910.4,904.0 L911.4,906.3 L912.5,908.5 L913.5,910.8 L914.5,913.1 L915.6,915.4 L916.6,917.7 L917.7,920.0 L918.7,922.2 L919.8,924.5 L920.8,926.8 L921.9,929.0 L923.0,931.3 L924.0,933.6 L925.1,935.8 L926.2,938.1 L927.3,940.4 L928.4,942.6 L929.5,944.9 L930.5,947.1 L931.6,949.4 L932.7,951.6 L933.9,953.9 L935.0,956.1 L936.1,958.3 L937.2,960.6 L938.3,962.8 L939.4,965.0 L940.6,967.3 L941.7,969.5 L942.9,971.7 L944.0,973.9 L945.2,976.1 L946.3,978.4 L947.5,980.6 L948.6,982.8 L949.8,985.0 L951.0,987.2 L952.1,989.4 L953.3,991.6 L954.5,993.7 L955.7,995.9 L956.9,998.1 L958.1,1000.3 L959.3,1002.5 L960.5,1004.6 L961.8,1006.8 L963.0,1009.0 L964.2,1011.1 L965.4,1013.3 L966.7,1015.4 L967.9,1017.6 L969.2,1019.7 L970.4,1021.8 L971.7,1024.0 L973.0,1026.1 L974.2,1028.2 L975.5,1030.3 L976.8,1032.5 L978.1,1034.6 L979.4,1036.7 L980.7,1038.8 L982.0,1040.9 L983.3,1043.0 L984.6,1045.1 L985.9,1047.1 L987.3,1049.2 L988.6,1051.3 L989.9,1053.4 L991.3,1055.4 L992.6,1057.5 L994.0,1059.5 L995.4,1061.6 L996.7,1063.6 L998.1,1065.7 L999.5,1067.7 L1000.9,1069.7 L1002.3,1071.8 L1003.7,1073.8 L1005.1,1075.8 L1006.5,1077.8 L1007.9,1079.8 L1009.4,1081.8 L1010.8,1083.8 L1012.2,1085.8 L1013.7,1087.7 L1015.1,1089.7 L1016.6,1091.7 L1018.1,1093.6 L1019.5,1095.6 L1021.0,1097.5 L1022.5,1099.5 L1024.0,1101.4 L1025.5,1103.3 L1027.0,1105.3 L1028.6,1107.2 L1030.1,1109.1 L1031.6,1111.0 L1033.2,1112.9 L1034.7,1114.8 L1036.3,1116.7 L1037.8,1118.5 L1039.4,1120.4 L1041.0,1122.3 L1042.6,1124.1 L1044.1,1126.0 L1045.7,1127.8 L1047.4,1129.7 L1049.0,1131.5 L1050.6,1133.3 L1052.2,1135.1 L1053.9,1136.9 L1055.5,1138.7 L1057.2,1140.5 L1058.8,1142.3 L1060.5,1144.1 L1062.2,1145.9 L1063.8,1147.6 L1065.5,1149.4 L1067.2,1151.2 L1069.0,1152.9 L1070.7,1154.6 L1072.4,1156.4 L1074.1,1158.1 L1075.9,1159.8 L1077.6,1161.5 L1079.4,1163.2 L1081.2,1164.9 L1082.9,1166.6 L1084.7,1168.2 L1086.5,1169.9 L1088.3,1171.6 L1090.1,1173.2 L1091.9,1174.8 L1093.8,1176.5 L1095.6,1178.1 L1097.4,1179.7 L1099.3,1181.3 L1101.2,1182.9 L1103.0,1184.5 L1104.9,1186.1 L1106.8,1187.7 L1108.7,1189.2 L1110.6,1190.8 L1112.5,1192.3 L1114.4,1193.9 L1116.4,1195.4 L1118.3,1196.9 L1120.3,1198.4 L1122.2,1199.9 L1124.2,1201.4 L1126.2,1202.9 L1128.2,1204.4 L1130.2,1205.8 L1132.2,1207.3 L1134.2,1208.7 L1136.2,1210.2 L1138.3,1211.6 L1140.3,1213.0 L1142.4,1214.4 L1144.5,1215.8 L1146.5,1217.2 L1148.6,1218.6 L1150.7,1220.0 L1152.8,1221.3 L1154.9,1222.7 L1157.1,1224.0 L1159.2,1225.4 L1161.3,1226.7 L1163.5,1228.0 L1165.7,1229.3 L1167.8,1230.6 L1170.0,1231.9 L1172.2,1233.1 L1174.4,1234.4 L1174.5,1234.2 L1177.8,1232.2 L1179.2,1225.3" stroke="#000" stroke-width="12" stroke-linecap="round"/>
<path d="M244.4,1325.7 L247.0,1325.8 L249.6,1325.9 L252.2,1326.0 L254.7,1326.0 L257.3,1326.0 L259.8,1325.9 L262.4,1325.8 M288.8,1322.9 L291.3,1322.4 L293.9,1321.9 L296.4,1321.3 L298.8,1320.7 L301.3,1320.1 L303.8,1319.4 L306.3,1318.7 M331.7,1309.1 L334.0,1308.0 L336.3,1306.9 L338.6,1305.8 L340.9,1304.6 L343.2,1303.4 L345.5,1302.1 L347.7,1300.9 M370.8,1286.1 L372.9,1284.7 L375.0,1283.2 L377.0,1281.6 L379.1,1280.1 L381.1,1278.5 L383.2,1276.9 L385.2,1275.4 M408.2,1256.2 L410.1,1254.5 L412.0,1252.8 L413.9,1251.1 L415.8,1249.4 L417.7,1247.7 L419.7,1246.0 L421.6,1244.2 M441.0,1226.5 L442.9,1224.8 L444.8,1223.0 L446.7,1221.3 L448.6,1219.6 L450.5,1217.8 L452.4,1216.1 L454.4,1214.4 M474.8,1196.6 L476.7,1195.0 L478.7,1193.3 L480.7,1191.7 L482.7,1190.1 L484.7,1188.5 L486.7,1186.9 L488.8,1185.3 M509.7,1170.0 L511.8,1168.5 L514.0,1167.1 L516.2,1165.7 L518.3,1164.3 L520.5,1163.0 L522.7,1161.6 L524.9,1160.3 M547.3,1148.4 L549.7,1147.3 L552.0,1146.3 L554.4,1145.3 L556.8,1144.3 L559.2,1143.3 L561.6,1142.4 L564.0,1141.6 M590.6,1134.7 L593.1,1134.4 L595.6,1134.0 L598.2,1133.8 L600.7,1133.5 L603.3,1133.3 L605.8,1133.2 L608.5,1133.1 M634.9,1134.8 L637.4,1135.2 L639.9,1135.7 L642.4,1136.1 L644.9,1136.6 L647.4,1137.1 L650.0,1137.7 L652.5,1138.2 M678.2,1145.7 L680.5,1146.5 L683.0,1147.4 L685.4,1148.2 L687.8,1149.1 L690.2,1150.0 L692.7,1150.9 L695.1,1151.9 M718.8,1161.7 L721.1,1162.8 L723.5,1163.8 L725.8,1164.9 L728.2,1165.9 L730.5,1167.0 L732.8,1168.0 L735.2,1169.1 M761.0,1181.3 L763.3,1182.4 L765.6,1183.5 L767.9,1184.7 L770.2,1185.8 L772.5,1186.9 L774.8,1188.1 L777.2,1189.2 M801.9,1201.6 L804.2,1202.8 L806.5,1203.9 L808.8,1205.1 L811.1,1206.2 L813.4,1207.4 L815.7,1208.6 L818.0,1209.8 M840.6,1221.2 L842.9,1222.3 L845.2,1223.5 L847.5,1224.6 L849.8,1225.8 L852.1,1226.9 L854.4,1228.1 L856.8,1229.2 M882.3,1241.6 L884.6,1242.7 L886.9,1243.8 L889.2,1244.9 L891.6,1246.0 L893.9,1247.1 L896.2,1248.1 L898.6,1249.2 M923.3,1260.1 L925.7,1261.1 L928.0,1262.1 L930.4,1263.1 L932.8,1264.0 L935.1,1265.0 L937.5,1266.0 L939.9,1266.9 M963.1,1275.6 L965.5,1276.5 L967.9,1277.3 L970.3,1278.2 L972.7,1279.0 L975.2,1279.8 L977.6,1280.6 L980.1,1281.4 M1006.7,1289.4 L1009.2,1290.1 L1011.6,1290.7 L1014.1,1291.4 L1016.6,1292.1 L1019.1,1292.7 L1021.6,1293.3 L1024.1,1294.0 M1050.3,1300.1 L1052.8,1300.7 L1055.3,1301.2 L1057.8,1301.7 L1060.3,1302.3 L1062.8,1302.8 L1065.3,1303.3 L1067.9,1303.8 M1094.0,1308.6 L1096.5,1309.0 L1099.0,1309.4 L1101.5,1309.8 L1104.1,1310.3 L1106.6,1310.7 L1109.2,1311.1 L1111.7,1311.5 M1138.4,1315.2 L1140.9,1315.5 L1143.4,1315.9 L1146.0,1316.2 L1148.6,1316.5 L1151.1,1316.8 L1153.7,1317.1 L1156.2,1317.4 M1183.6,1320.3 L1186.1,1320.6 L1188.7,1320.8 L1191.3,1321.1 L1193.8,1321.3 L1196.4,1321.5 L1198.9,1321.8 L1201.5,1322.0" stroke="#000" stroke-width="6" stroke-linecap="round"/>
</g>
<g stroke="#000" fill="none">
<path d="M588,197.75 L587,1040" stroke-width="6.5" stroke-linecap="round" stroke-dasharray="6 15.39"/>
<path d="M588.2,1149.5 L588.2,1228" stroke-width="6.5" stroke-linecap="round" stroke-dasharray="6 15.39"/>
<path transform="translate(587,1077.8)" d="M-16,-42.8 L-13.6,-45 L-11.3,-45 L0,-33.6 L11.1,-45 L14.4,-45 L15.9,-42.8 L15.9,-40.3 L1.9,0 L-2.9,0 L-16,-39.3 Z" fill="#000" stroke="none"/>
<path transform="translate(588.7,1265.3)" d="M-16,-42.8 L-13.6,-45 L-11.3,-45 L0,-33.6 L11.1,-45 L14.4,-45 L15.9,-42.8 L15.9,-40.3 L1.9,0 L-2.9,0 L-16,-39.3 Z" fill="#000" stroke="none"/>
</g>
<g stroke="#000" stroke-width="5" stroke-linecap="round"><line x1="354.88" y1="42" x2="354.88" y2="51.5"/><line x1="354.88" y1="1342" x2="354.88" y2="1332.5"/><line x1="467.50" y1="42" x2="467.50" y2="61.5"/><line x1="467.50" y1="1342" x2="467.50" y2="1322.5"/><line x1="580.12" y1="42" x2="580.12" y2="51.5"/><line x1="580.12" y1="1342" x2="580.12" y2="1332.5"/><line x1="692.75" y1="42" x2="692.75" y2="61.5"/><line x1="692.75" y1="1342" x2="692.75" y2="1322.5"/><line x1="805.38" y1="42" x2="805.38" y2="51.5"/><line x1="805.38" y1="1342" x2="805.38" y2="1332.5"/><line x1="918.00" y1="42" x2="918.00" y2="61.5"/><line x1="918.00" y1="1342" x2="918.00" y2="1322.5"/><line x1="1030.62" y1="42" x2="1030.62" y2="51.5"/><line x1="1030.62" y1="1342" x2="1030.62" y2="1332.5"/><line x1="1143.25" y1="42" x2="1143.25" y2="61.5"/><line x1="1143.25" y1="1342" x2="1143.25" y2="1322.5"/><line x1="1255.88" y1="42" x2="1255.88" y2="51.5"/><line x1="1255.88" y1="1342" x2="1255.88" y2="1332.5"/><line x1="1368.50" y1="42" x2="1368.50" y2="61.5"/><line x1="1368.50" y1="1342" x2="1368.50" y2="1322.5"/><line x1="1481.12" y1="42" x2="1481.12" y2="51.5"/><line x1="1481.12" y1="1342" x2="1481.12" y2="1332.5"/><line x1="242" y1="1224.5" x2="252.5" y2="1224.5"/><line x1="1594" y1="1224.5" x2="1583.5" y2="1224.5"/><line x1="242" y1="1106.5" x2="262.5" y2="1106.5"/><line x1="1594" y1="1106.5" x2="1573.5" y2="1106.5"/><line x1="242" y1="987.5" x2="252.5" y2="987.5"/><line x1="1594" y1="987.5" x2="1583.5" y2="987.5"/><line x1="242" y1="869.5" x2="262.5" y2="869.5"/><line x1="1594" y1="869.5" x2="1573.5" y2="869.5"/><line x1="242" y1="751.5" x2="252.5" y2="751.5"/><line x1="1594" y1="751.5" x2="1583.5" y2="751.5"/><line x1="242" y1="632.5" x2="262.5" y2="632.5"/><line x1="1594" y1="632.5" x2="1573.5" y2="632.5"/><line x1="242" y1="514.5" x2="252.5" y2="514.5"/><line x1="1594" y1="514.5" x2="1583.5" y2="514.5"/><line x1="242" y1="396.5" x2="262.5" y2="396.5"/><line x1="1594" y1="396.5" x2="1573.5" y2="396.5"/><line x1="242" y1="278.5" x2="252.5" y2="278.5"/><line x1="1594" y1="278.5" x2="1583.5" y2="278.5"/><line x1="242" y1="160.5" x2="262.5" y2="160.5"/><line x1="1594" y1="160.5" x2="1573.5" y2="160.5"/></g>
<g fill="#000"><rect x="239" y="39" width="6" height="1306"/><rect x="1591" y="39" width="6" height="1306"/><rect x="239" y="39" width="1358" height="5"/><rect x="239" y="1340" width="1358" height="5"/></g>
<g filter="url(#bin)">
<g class="tl"><text x="242.2" y="1421" text-anchor="middle" textLength="105.7" lengthAdjust="spacingAndGlyphs">450</text><text x="467.5" y="1421" text-anchor="middle" textLength="105.7" lengthAdjust="spacingAndGlyphs">500</text><text x="692.8" y="1421" text-anchor="middle" textLength="105.7" lengthAdjust="spacingAndGlyphs">550</text><text x="918.0" y="1421" text-anchor="middle" textLength="105.7" lengthAdjust="spacingAndGlyphs">600</text><text x="1143.2" y="1421" text-anchor="middle" textLength="105.7" lengthAdjust="spacingAndGlyphs">650</text><text x="1368.5" y="1421" text-anchor="middle" textLength="105.7" lengthAdjust="spacingAndGlyphs">700</text><text x="1593.8" y="1421" text-anchor="middle" textLength="105.7" lengthAdjust="spacingAndGlyphs">750</text><text x="218" y="1363.3" text-anchor="end" textLength="88.1" lengthAdjust="spacingAndGlyphs">0.0</text><text x="218" y="1126.8" text-anchor="end" textLength="88.1" lengthAdjust="spacingAndGlyphs">0.2</text><text x="218" y="890.3" text-anchor="end" textLength="88.1" lengthAdjust="spacingAndGlyphs">0.4</text><text x="218" y="653.8" text-anchor="end" textLength="88.1" lengthAdjust="spacingAndGlyphs">0.6</text><text x="218" y="417.3" text-anchor="end" textLength="88.1" lengthAdjust="spacingAndGlyphs">0.8</text><text x="218" y="180.8" text-anchor="end" textLength="88.1" lengthAdjust="spacingAndGlyphs">1.0</text></g>
<text class="at" x="950" y="1507" text-anchor="middle">wavelength / nm</text>
<text class="aty" transform="translate(97.5,691.5) rotate(-90)" x="0" y="0" text-anchor="middle">photoluminescence / a.u.</text>
</g>
<rect x="1266" y="69" width="467.5" height="447.5" fill="#000"/>
<rect x="1251" y="54" width="467" height="446" fill="#fff" stroke="#000" stroke-width="2"/>
<line x1="1258" y1="148.7" x2="1381.5" y2="148.7" stroke="#000" stroke-width="12" stroke-linecap="round"/>
<line x1="1258" y1="274.8" x2="1381.5" y2="274.8" stroke="#ff0000" stroke-width="12" stroke-linecap="round"/>
<line x1="1258" y1="368.8" x2="1381.5" y2="368.8" stroke="#00ff00" stroke-width="12" stroke-linecap="round"/>
<line x1="1258" y1="458.1" x2="1381.5" y2="458.1" stroke="#0000ff" stroke-width="12" stroke-linecap="round"/>
<g class="lt" filter="url(#bin)">
<text x="1403" y="168">Alq<tspan class="sub" dx="-3" dy="23">3</tspan></text>
<text x="1401" y="294" textLength="310" lengthAdjust="spacingAndGlyphs">1% DCM2</text>
<text x="1398" y="388" textLength="313" lengthAdjust="spacingAndGlyphs">3% DCM2</text>
<text x="1398" y="477" textLength="313" lengthAdjust="spacingAndGlyphs">6% DCM2</text>
</g>
<defs><clipPath id="clip"><rect x="239" y="39" width="1356" height="1306"/></clipPath><filter id="bin" x="0" y="0" width="1776" height="1550" filterUnits="userSpaceOnUse" color-interpolation-filters="sRGB"><feComponentTransfer><feFuncA type="discrete" tableValues="0 1"/></feComponentTransfer></filter></defs>
</svg>
</body></html>
